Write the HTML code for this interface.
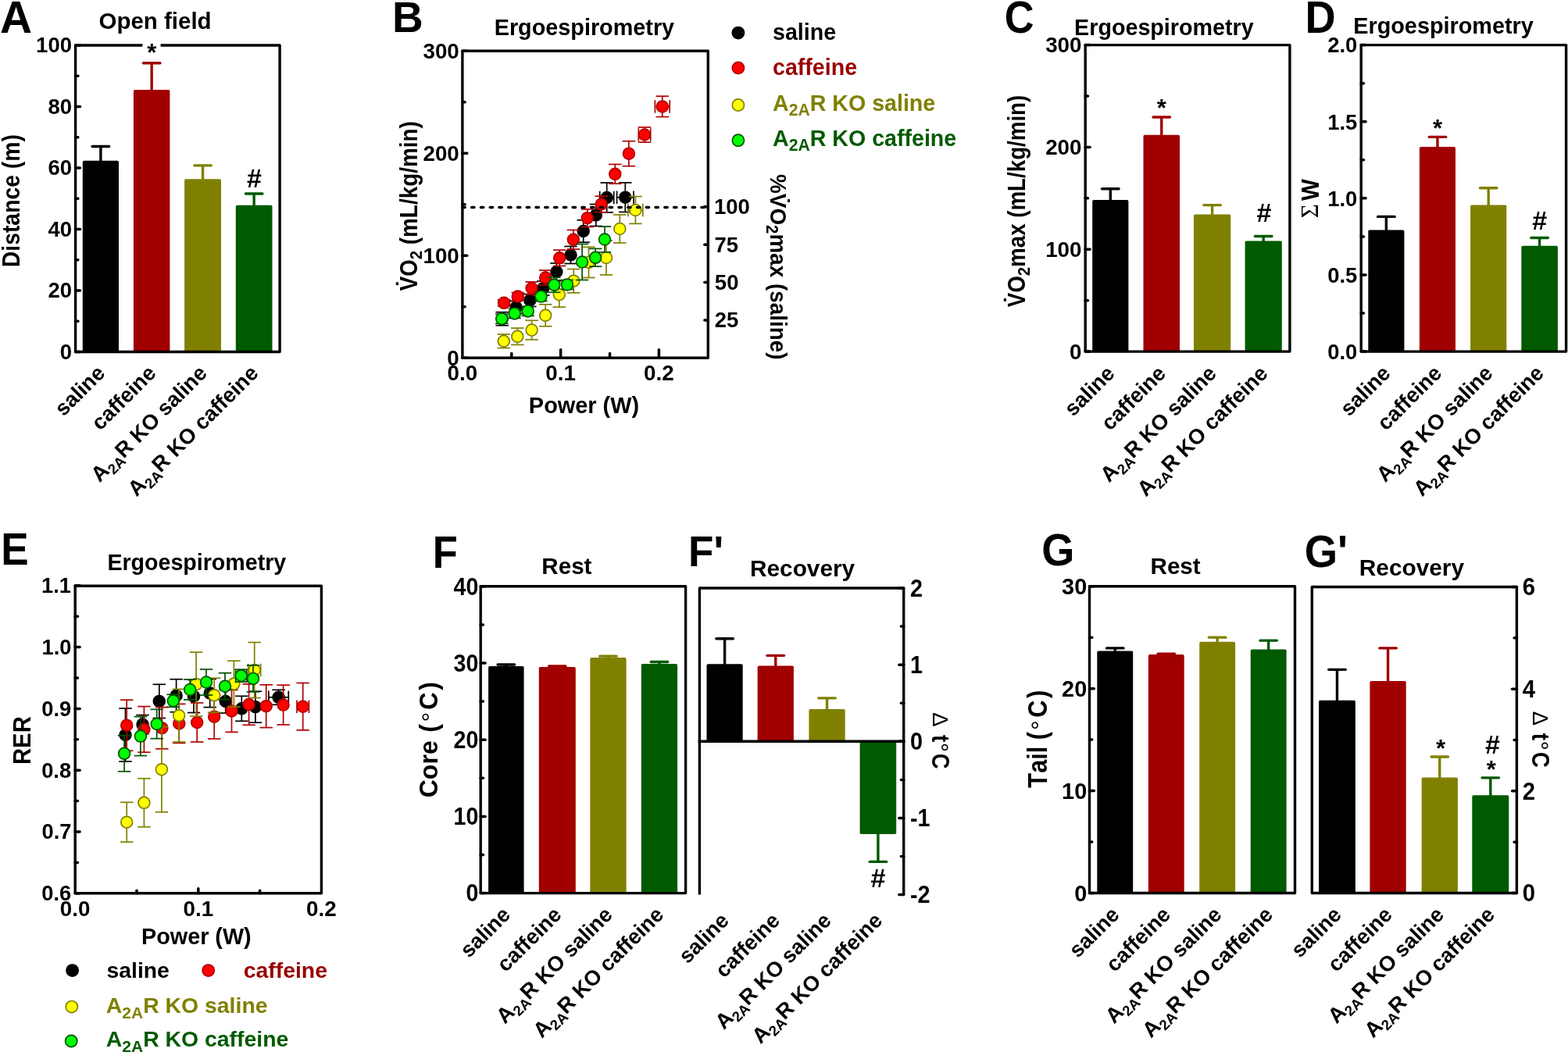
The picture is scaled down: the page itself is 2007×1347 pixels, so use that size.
<!DOCTYPE html>
<html><head><meta charset="utf-8"><style>
html,body{margin:0;padding:0;background:#fff;}
svg{display:block;}
text{font-family:"Liberation Sans",sans-serif;font-kerning:none;}
</style></head><body>
<svg width="2007" height="1347" viewBox="0 0 2007 1347">
<rect width="2007" height="1347" fill="#fff"/>
<rect x="105.80" y="205.76" width="46.20" height="244.74" fill="#000000" rx="1.8"/>
<line x1="128.90" y1="206.76" x2="128.90" y2="187.52" stroke="#000000" stroke-width="3.4" stroke-linecap="butt"/>
<line x1="118.15" y1="187.52" x2="139.65" y2="187.52" stroke="#000000" stroke-width="3.4" stroke-linecap="round"/>
<rect x="170.90" y="115.09" width="46.50" height="335.41" fill="#a00000" rx="1.8"/>
<line x1="194.15" y1="116.09" x2="194.15" y2="80.76" stroke="#a00000" stroke-width="3.4" stroke-linecap="butt"/>
<line x1="183.40" y1="80.76" x2="204.90" y2="80.76" stroke="#a00000" stroke-width="3.4" stroke-linecap="round"/>
<rect x="236.10" y="229.31" width="46.90" height="221.19" fill="#808000" rx="1.8"/>
<line x1="259.55" y1="230.31" x2="259.55" y2="211.86" stroke="#808000" stroke-width="3.4" stroke-linecap="butt"/>
<line x1="248.80" y1="211.86" x2="270.30" y2="211.86" stroke="#808000" stroke-width="3.4" stroke-linecap="round"/>
<rect x="301.80" y="262.67" width="46.70" height="187.83" fill="#005a00" rx="1.8"/>
<line x1="325.15" y1="263.67" x2="325.15" y2="247.97" stroke="#005a00" stroke-width="3.4" stroke-linecap="butt"/>
<line x1="314.40" y1="247.97" x2="335.90" y2="247.97" stroke="#005a00" stroke-width="3.4" stroke-linecap="round"/>
<path d="M182.40,58.00 L96.60,58.00 L96.60,450.50 L358.10,450.50 L358.10,58.00 L205.60,58.00" stroke="#000" stroke-width="3.4" stroke-linejoin="round" fill="none"/>
<line x1="96.60" y1="450.50" x2="102.45" y2="450.50" stroke="#000000" stroke-width="3.5" stroke-linecap="round"/>
<line x1="96.60" y1="372.00" x2="102.45" y2="372.00" stroke="#000000" stroke-width="3.5" stroke-linecap="round"/>
<line x1="96.60" y1="293.50" x2="102.45" y2="293.50" stroke="#000000" stroke-width="3.5" stroke-linecap="round"/>
<line x1="96.60" y1="215.00" x2="102.45" y2="215.00" stroke="#000000" stroke-width="3.5" stroke-linecap="round"/>
<line x1="96.60" y1="136.50" x2="102.45" y2="136.50" stroke="#000000" stroke-width="3.5" stroke-linecap="round"/>
<line x1="96.60" y1="58.00" x2="102.45" y2="58.00" stroke="#000000" stroke-width="3.5" stroke-linecap="round"/>
<line x1="96.60" y1="411.25" x2="99.85" y2="411.25" stroke="#000000" stroke-width="3.5" stroke-linecap="round"/>
<line x1="96.60" y1="332.75" x2="99.85" y2="332.75" stroke="#000000" stroke-width="3.5" stroke-linecap="round"/>
<line x1="96.60" y1="254.25" x2="99.85" y2="254.25" stroke="#000000" stroke-width="3.5" stroke-linecap="round"/>
<line x1="96.60" y1="175.75" x2="99.85" y2="175.75" stroke="#000000" stroke-width="3.5" stroke-linecap="round"/>
<line x1="96.60" y1="97.25" x2="99.85" y2="97.25" stroke="#000000" stroke-width="3.5" stroke-linecap="round"/>
<text transform="translate(92.00,459.96)" font-size="27.5" font-weight="bold" text-anchor="end" fill="#000000">0</text>
<text transform="translate(92.00,381.46)" font-size="27.5" font-weight="bold" text-anchor="end" fill="#000000">20</text>
<text transform="translate(92.00,302.96)" font-size="27.5" font-weight="bold" text-anchor="end" fill="#000000">40</text>
<text transform="translate(92.00,224.46)" font-size="27.5" font-weight="bold" text-anchor="end" fill="#000000">60</text>
<text transform="translate(92.00,145.96)" font-size="27.5" font-weight="bold" text-anchor="end" fill="#000000">80</text>
<text transform="translate(92.00,67.46)" font-size="27.5" font-weight="bold" text-anchor="end" fill="#000000">100</text>
<text transform="translate(135.90,479.35) rotate(-45)" font-size="27.3" font-weight="bold" text-anchor="end" fill="#000000">saline</text>
<text transform="translate(201.15,479.35) rotate(-45)" font-size="27.3" font-weight="bold" text-anchor="end" fill="#000000">caffeine</text>
<text transform="translate(266.55,479.35) rotate(-45)" font-size="27.3" font-weight="bold" text-anchor="end" fill="#000000">A<tspan font-size="18.6" dy="5.7">2A</tspan><tspan dy="-5.7">R KO saline</tspan></text>
<text transform="translate(332.15,479.35) rotate(-45)" font-size="27.3" font-weight="bold" text-anchor="end" fill="#000000">A<tspan font-size="18.6" dy="5.7">2A</tspan><tspan dy="-5.7">R KO caffeine</tspan></text>
<rect x="1398.20" y="256.12" width="46.20" height="193.98" fill="#000000" rx="1.8"/>
<line x1="1421.30" y1="257.12" x2="1421.30" y2="241.81" stroke="#000000" stroke-width="3.4" stroke-linecap="butt"/>
<line x1="1410.55" y1="241.81" x2="1432.05" y2="241.81" stroke="#000000" stroke-width="3.4" stroke-linecap="round"/>
<rect x="1463.50" y="172.78" width="46.50" height="277.32" fill="#a00000" rx="1.8"/>
<line x1="1486.75" y1="173.78" x2="1486.75" y2="149.97" stroke="#a00000" stroke-width="3.4" stroke-linecap="butt"/>
<line x1="1476.00" y1="149.97" x2="1497.50" y2="149.97" stroke="#a00000" stroke-width="3.4" stroke-linecap="round"/>
<rect x="1528.00" y="274.57" width="47.20" height="175.53" fill="#808000" rx="1.8"/>
<line x1="1551.60" y1="275.57" x2="1551.60" y2="262.62" stroke="#808000" stroke-width="3.4" stroke-linecap="butt"/>
<line x1="1540.85" y1="262.62" x2="1562.35" y2="262.62" stroke="#808000" stroke-width="3.4" stroke-linecap="round"/>
<rect x="1593.60" y="308.45" width="47.20" height="141.65" fill="#005a00" rx="1.8"/>
<line x1="1617.20" y1="309.45" x2="1617.20" y2="302.52" stroke="#005a00" stroke-width="3.4" stroke-linecap="butt"/>
<line x1="1606.45" y1="302.52" x2="1627.95" y2="302.52" stroke="#005a00" stroke-width="3.4" stroke-linecap="round"/>
<rect x="1389.20" y="57.60" width="261.70" height="392.50" stroke="#000" stroke-width="3.4" stroke-linejoin="round" fill="none"/>
<line x1="1389.20" y1="450.10" x2="1395.05" y2="450.10" stroke="#000000" stroke-width="3.5" stroke-linecap="round"/>
<line x1="1389.20" y1="319.27" x2="1395.05" y2="319.27" stroke="#000000" stroke-width="3.5" stroke-linecap="round"/>
<line x1="1389.20" y1="188.43" x2="1395.05" y2="188.43" stroke="#000000" stroke-width="3.5" stroke-linecap="round"/>
<line x1="1389.20" y1="57.60" x2="1395.05" y2="57.60" stroke="#000000" stroke-width="3.5" stroke-linecap="round"/>
<line x1="1389.20" y1="384.68" x2="1392.45" y2="384.68" stroke="#000000" stroke-width="3.5" stroke-linecap="round"/>
<line x1="1389.20" y1="253.85" x2="1392.45" y2="253.85" stroke="#000000" stroke-width="3.5" stroke-linecap="round"/>
<line x1="1389.20" y1="123.02" x2="1392.45" y2="123.02" stroke="#000000" stroke-width="3.5" stroke-linecap="round"/>
<text transform="translate(1384.50,459.76) scale(1,1.01)" font-size="27.8" font-weight="bold" text-anchor="end" fill="#000000">0</text>
<text transform="translate(1384.50,328.93) scale(1,1.01)" font-size="27.8" font-weight="bold" text-anchor="end" fill="#000000">100</text>
<text transform="translate(1384.50,198.09) scale(1,1.01)" font-size="27.8" font-weight="bold" text-anchor="end" fill="#000000">200</text>
<text transform="translate(1384.50,67.26) scale(1,1.01)" font-size="27.8" font-weight="bold" text-anchor="end" fill="#000000">300</text>
<text transform="translate(1428.30,479.65) rotate(-45)" font-size="27.3" font-weight="bold" text-anchor="end" fill="#000000">saline</text>
<text transform="translate(1493.75,479.65) rotate(-45)" font-size="27.3" font-weight="bold" text-anchor="end" fill="#000000">caffeine</text>
<text transform="translate(1558.60,479.65) rotate(-45)" font-size="27.3" font-weight="bold" text-anchor="end" fill="#000000">A<tspan font-size="18.6" dy="5.7">2A</tspan><tspan dy="-5.7">R KO saline</tspan></text>
<text transform="translate(1624.20,479.65) rotate(-45)" font-size="27.3" font-weight="bold" text-anchor="end" fill="#000000">A<tspan font-size="18.6" dy="5.7">2A</tspan><tspan dy="-5.7">R KO caffeine</tspan></text>
<rect x="1751.30" y="294.46" width="46.10" height="155.64" fill="#000000" rx="1.8"/>
<line x1="1774.35" y1="295.46" x2="1774.35" y2="277.40" stroke="#000000" stroke-width="3.4" stroke-linecap="butt"/>
<line x1="1763.60" y1="277.40" x2="1785.10" y2="277.40" stroke="#000000" stroke-width="3.4" stroke-linecap="round"/>
<rect x="1816.90" y="188.09" width="46.10" height="262.01" fill="#a00000" rx="1.8"/>
<line x1="1839.95" y1="189.09" x2="1839.95" y2="175.35" stroke="#a00000" stroke-width="3.4" stroke-linecap="butt"/>
<line x1="1829.20" y1="175.35" x2="1850.70" y2="175.35" stroke="#a00000" stroke-width="3.4" stroke-linecap="round"/>
<rect x="1882.10" y="262.47" width="46.20" height="187.63" fill="#808000" rx="1.8"/>
<line x1="1905.20" y1="263.47" x2="1905.20" y2="240.70" stroke="#808000" stroke-width="3.4" stroke-linecap="butt"/>
<line x1="1894.45" y1="240.70" x2="1915.95" y2="240.70" stroke="#808000" stroke-width="3.4" stroke-linecap="round"/>
<rect x="1947.30" y="314.67" width="46.60" height="135.43" fill="#005a00" rx="1.8"/>
<line x1="1970.60" y1="315.67" x2="1970.60" y2="304.48" stroke="#005a00" stroke-width="3.4" stroke-linecap="butt"/>
<line x1="1959.85" y1="304.48" x2="1981.35" y2="304.48" stroke="#005a00" stroke-width="3.4" stroke-linecap="round"/>
<rect x="1742.20" y="57.60" width="262.40" height="392.50" stroke="#000" stroke-width="3.4" stroke-linejoin="round" fill="none"/>
<line x1="1742.20" y1="450.10" x2="1748.05" y2="450.10" stroke="#000000" stroke-width="3.5" stroke-linecap="round"/>
<line x1="1742.20" y1="351.98" x2="1748.05" y2="351.98" stroke="#000000" stroke-width="3.5" stroke-linecap="round"/>
<line x1="1742.20" y1="253.85" x2="1748.05" y2="253.85" stroke="#000000" stroke-width="3.5" stroke-linecap="round"/>
<line x1="1742.20" y1="155.73" x2="1748.05" y2="155.73" stroke="#000000" stroke-width="3.5" stroke-linecap="round"/>
<line x1="1742.20" y1="57.60" x2="1748.05" y2="57.60" stroke="#000000" stroke-width="3.5" stroke-linecap="round"/>
<line x1="1742.20" y1="401.04" x2="1745.45" y2="401.04" stroke="#000000" stroke-width="3.5" stroke-linecap="round"/>
<line x1="1742.20" y1="302.91" x2="1745.45" y2="302.91" stroke="#000000" stroke-width="3.5" stroke-linecap="round"/>
<line x1="1742.20" y1="204.79" x2="1745.45" y2="204.79" stroke="#000000" stroke-width="3.5" stroke-linecap="round"/>
<line x1="1742.20" y1="106.66" x2="1745.45" y2="106.66" stroke="#000000" stroke-width="3.5" stroke-linecap="round"/>
<text transform="translate(1737.30,459.90) scale(1,1.04)" font-size="27.4" font-weight="bold" text-anchor="end" fill="#000000">0.0</text>
<text transform="translate(1737.30,361.78) scale(1,1.04)" font-size="27.4" font-weight="bold" text-anchor="end" fill="#000000">0.5</text>
<text transform="translate(1737.30,263.65) scale(1,1.04)" font-size="27.4" font-weight="bold" text-anchor="end" fill="#000000">1.0</text>
<text transform="translate(1737.30,165.53) scale(1,1.04)" font-size="27.4" font-weight="bold" text-anchor="end" fill="#000000">1.5</text>
<text transform="translate(1737.30,67.40) scale(1,1.04)" font-size="27.4" font-weight="bold" text-anchor="end" fill="#000000">2.0</text>
<text transform="translate(1781.35,479.45) rotate(-45)" font-size="27.3" font-weight="bold" text-anchor="end" fill="#000000">saline</text>
<text transform="translate(1846.95,479.45) rotate(-45)" font-size="27.3" font-weight="bold" text-anchor="end" fill="#000000">caffeine</text>
<text transform="translate(1912.20,479.45) rotate(-45)" font-size="27.3" font-weight="bold" text-anchor="end" fill="#000000">A<tspan font-size="18.6" dy="5.7">2A</tspan><tspan dy="-5.7">R KO saline</tspan></text>
<text transform="translate(1977.60,479.45) rotate(-45)" font-size="27.3" font-weight="bold" text-anchor="end" fill="#000000">A<tspan font-size="18.6" dy="5.7">2A</tspan><tspan dy="-5.7">R KO caffeine</tspan></text>
<rect x="625.10" y="852.91" width="45.50" height="290.69" fill="#000000" rx="1.8"/>
<line x1="647.85" y1="853.91" x2="647.85" y2="850.96" stroke="#000000" stroke-width="3.4" stroke-linecap="butt"/>
<line x1="637.10" y1="850.96" x2="658.60" y2="850.96" stroke="#000000" stroke-width="3.4" stroke-linecap="round"/>
<rect x="689.80" y="853.89" width="47.00" height="289.71" fill="#a00000" rx="1.8"/>
<line x1="713.30" y1="854.89" x2="713.30" y2="852.93" stroke="#a00000" stroke-width="3.4" stroke-linecap="butt"/>
<line x1="702.55" y1="852.93" x2="724.05" y2="852.93" stroke="#a00000" stroke-width="3.4" stroke-linecap="round"/>
<rect x="755.30" y="842.11" width="46.30" height="301.49" fill="#808000" rx="1.8"/>
<line x1="778.45" y1="843.11" x2="778.45" y2="840.16" stroke="#808000" stroke-width="3.4" stroke-linecap="butt"/>
<line x1="767.70" y1="840.16" x2="789.20" y2="840.16" stroke="#808000" stroke-width="3.4" stroke-linecap="round"/>
<rect x="820.80" y="849.96" width="46.30" height="293.64" fill="#005a00" rx="1.8"/>
<line x1="843.95" y1="850.96" x2="843.95" y2="847.53" stroke="#005a00" stroke-width="3.4" stroke-linecap="butt"/>
<line x1="833.20" y1="847.53" x2="854.70" y2="847.53" stroke="#005a00" stroke-width="3.4" stroke-linecap="round"/>
<rect x="615.20" y="750.80" width="262.40" height="392.80" stroke="#000" stroke-width="3.4" stroke-linejoin="round" fill="none"/>
<line x1="615.20" y1="1143.60" x2="621.05" y2="1143.60" stroke="#000000" stroke-width="3.5" stroke-linecap="round"/>
<line x1="615.20" y1="1045.40" x2="621.05" y2="1045.40" stroke="#000000" stroke-width="3.5" stroke-linecap="round"/>
<line x1="615.20" y1="947.20" x2="621.05" y2="947.20" stroke="#000000" stroke-width="3.5" stroke-linecap="round"/>
<line x1="615.20" y1="849.00" x2="621.05" y2="849.00" stroke="#000000" stroke-width="3.5" stroke-linecap="round"/>
<line x1="615.20" y1="750.80" x2="621.05" y2="750.80" stroke="#000000" stroke-width="3.5" stroke-linecap="round"/>
<line x1="615.20" y1="1094.50" x2="618.45" y2="1094.50" stroke="#000000" stroke-width="3.5" stroke-linecap="round"/>
<line x1="615.20" y1="996.30" x2="618.45" y2="996.30" stroke="#000000" stroke-width="3.5" stroke-linecap="round"/>
<line x1="615.20" y1="898.10" x2="618.45" y2="898.10" stroke="#000000" stroke-width="3.5" stroke-linecap="round"/>
<line x1="615.20" y1="799.90" x2="618.45" y2="799.90" stroke="#000000" stroke-width="3.5" stroke-linecap="round"/>
<text transform="translate(612.30,1154.32) scale(1,1.09)" font-size="28.6" font-weight="bold" text-anchor="end" fill="#000000">0</text>
<text transform="translate(612.30,1056.12) scale(1,1.09)" font-size="28.6" font-weight="bold" text-anchor="end" fill="#000000">10</text>
<text transform="translate(612.30,957.92) scale(1,1.09)" font-size="28.6" font-weight="bold" text-anchor="end" fill="#000000">20</text>
<text transform="translate(612.30,859.72) scale(1,1.09)" font-size="28.6" font-weight="bold" text-anchor="end" fill="#000000">30</text>
<text transform="translate(612.30,761.52) scale(1,1.09)" font-size="28.6" font-weight="bold" text-anchor="end" fill="#000000">40</text>
<text transform="translate(654.85,1172.85) rotate(-45)" font-size="27.3" font-weight="bold" text-anchor="end" fill="#000000">saline</text>
<text transform="translate(720.30,1172.85) rotate(-45)" font-size="27.3" font-weight="bold" text-anchor="end" fill="#000000">caffeine</text>
<text transform="translate(785.45,1172.85) rotate(-45)" font-size="27.3" font-weight="bold" text-anchor="end" fill="#000000">A<tspan font-size="18.6" dy="5.7">2A</tspan><tspan dy="-5.7">R KO saline</tspan></text>
<text transform="translate(850.95,1172.85) rotate(-45)" font-size="27.3" font-weight="bold" text-anchor="end" fill="#000000">A<tspan font-size="18.6" dy="5.7">2A</tspan><tspan dy="-5.7">R KO caffeine</tspan></text>
<rect x="904.50" y="850.15" width="46.20" height="99.15" fill="#000000" rx="1.8"/>
<line x1="927.60" y1="851.15" x2="927.60" y2="817.78" stroke="#000000" stroke-width="3.4" stroke-linecap="butt"/>
<line x1="916.85" y1="817.78" x2="938.35" y2="817.78" stroke="#000000" stroke-width="3.4" stroke-linecap="round"/>
<rect x="969.60" y="852.41" width="46.30" height="96.89" fill="#a00000" rx="1.8"/>
<line x1="992.75" y1="853.41" x2="992.75" y2="839.37" stroke="#a00000" stroke-width="3.4" stroke-linecap="butt"/>
<line x1="982.00" y1="839.37" x2="1003.50" y2="839.37" stroke="#a00000" stroke-width="3.4" stroke-linecap="round"/>
<rect x="1035.40" y="908.06" width="46.30" height="41.24" fill="#808000" rx="1.8"/>
<line x1="1058.55" y1="909.06" x2="1058.55" y2="893.85" stroke="#808000" stroke-width="3.4" stroke-linecap="butt"/>
<line x1="1047.80" y1="893.85" x2="1069.30" y2="893.85" stroke="#808000" stroke-width="3.4" stroke-linecap="round"/>
<rect x="1100.60" y="949.30" width="46.60" height="118.78" fill="#005a00" rx="1.8"/>
<line x1="1123.90" y1="1067.08" x2="1123.90" y2="1103.40" stroke="#005a00" stroke-width="3.4" stroke-linecap="butt"/>
<line x1="1113.15" y1="1103.40" x2="1134.65" y2="1103.40" stroke="#005a00" stroke-width="3.4" stroke-linecap="round"/>
<path d="M895.40,1145.60 L895.40,753.00 L1156.70,753.00 L1156.70,1145.60" stroke="#000" stroke-width="3.4" stroke-linejoin="round" fill="none"/>
<line x1="893.70" y1="949.30" x2="1158.40" y2="949.30" stroke="#000000" stroke-width="3.4" stroke-linecap="butt"/>
<line x1="1156.70" y1="1145.60" x2="1150.85" y2="1145.60" stroke="#000000" stroke-width="3.5" stroke-linecap="round"/>
<line x1="1156.70" y1="1047.45" x2="1150.85" y2="1047.45" stroke="#000000" stroke-width="3.5" stroke-linecap="round"/>
<line x1="1156.70" y1="949.30" x2="1150.85" y2="949.30" stroke="#000000" stroke-width="3.5" stroke-linecap="round"/>
<line x1="1156.70" y1="851.15" x2="1150.85" y2="851.15" stroke="#000000" stroke-width="3.5" stroke-linecap="round"/>
<line x1="1156.70" y1="753.00" x2="1150.85" y2="753.00" stroke="#000000" stroke-width="3.5" stroke-linecap="round"/>
<line x1="1156.70" y1="1096.52" x2="1153.45" y2="1096.52" stroke="#000000" stroke-width="3.5" stroke-linecap="round"/>
<line x1="1156.70" y1="998.38" x2="1153.45" y2="998.38" stroke="#000000" stroke-width="3.5" stroke-linecap="round"/>
<line x1="1156.70" y1="900.22" x2="1153.45" y2="900.22" stroke="#000000" stroke-width="3.5" stroke-linecap="round"/>
<line x1="1156.70" y1="802.08" x2="1153.45" y2="802.08" stroke="#000000" stroke-width="3.5" stroke-linecap="round"/>
<text transform="translate(1165.00,1156.20) scale(1,1.07)" font-size="28.8" font-weight="bold" text-anchor="start" fill="#000000">-2</text>
<text transform="translate(1165.00,1058.05) scale(1,1.07)" font-size="28.8" font-weight="bold" text-anchor="start" fill="#000000">-1</text>
<text transform="translate(1165.00,959.90) scale(1,1.07)" font-size="28.8" font-weight="bold" text-anchor="start" fill="#000000">0</text>
<text transform="translate(1165.00,861.75) scale(1,1.07)" font-size="28.8" font-weight="bold" text-anchor="start" fill="#000000">1</text>
<text transform="translate(1165.00,763.60) scale(1,1.07)" font-size="28.8" font-weight="bold" text-anchor="start" fill="#000000">2</text>
<text transform="translate(934.60,1180.25) rotate(-45)" font-size="27.3" font-weight="bold" text-anchor="end" fill="#000000">saline</text>
<text transform="translate(999.75,1180.25) rotate(-45)" font-size="27.3" font-weight="bold" text-anchor="end" fill="#000000">caffeine</text>
<text transform="translate(1065.55,1180.25) rotate(-45)" font-size="27.3" font-weight="bold" text-anchor="end" fill="#000000">A<tspan font-size="18.6" dy="5.7">2A</tspan><tspan dy="-5.7">R KO saline</tspan></text>
<text transform="translate(1130.90,1180.25) rotate(-45)" font-size="27.3" font-weight="bold" text-anchor="end" fill="#000000">A<tspan font-size="18.6" dy="5.7">2A</tspan><tspan dy="-5.7">R KO caffeine</tspan></text>
<rect x="1404.30" y="833.50" width="45.90" height="310.00" fill="#000000" rx="1.8"/>
<line x1="1427.25" y1="834.50" x2="1427.25" y2="829.91" stroke="#000000" stroke-width="3.4" stroke-linecap="butt"/>
<line x1="1416.50" y1="829.91" x2="1438.00" y2="829.91" stroke="#000000" stroke-width="3.4" stroke-linecap="round"/>
<rect x="1469.80" y="838.08" width="45.90" height="305.42" fill="#a00000" rx="1.8"/>
<line x1="1492.75" y1="839.08" x2="1492.75" y2="837.12" stroke="#a00000" stroke-width="3.4" stroke-linecap="butt"/>
<line x1="1482.00" y1="837.12" x2="1503.50" y2="837.12" stroke="#a00000" stroke-width="3.4" stroke-linecap="round"/>
<rect x="1535.20" y="821.71" width="45.90" height="321.79" fill="#808000" rx="1.8"/>
<line x1="1558.15" y1="822.71" x2="1558.15" y2="816.17" stroke="#808000" stroke-width="3.4" stroke-linecap="butt"/>
<line x1="1547.40" y1="816.17" x2="1568.90" y2="816.17" stroke="#808000" stroke-width="3.4" stroke-linecap="round"/>
<rect x="1600.70" y="831.40" width="45.90" height="312.10" fill="#005a00" rx="1.8"/>
<line x1="1623.65" y1="832.40" x2="1623.65" y2="820.09" stroke="#005a00" stroke-width="3.4" stroke-linecap="butt"/>
<line x1="1612.90" y1="820.09" x2="1634.40" y2="820.09" stroke="#005a00" stroke-width="3.4" stroke-linecap="round"/>
<rect x="1394.50" y="750.70" width="263.00" height="392.80" stroke="#000" stroke-width="3.4" stroke-linejoin="round" fill="none"/>
<line x1="1394.50" y1="1143.50" x2="1400.35" y2="1143.50" stroke="#000000" stroke-width="3.5" stroke-linecap="round"/>
<line x1="1394.50" y1="1012.57" x2="1400.35" y2="1012.57" stroke="#000000" stroke-width="3.5" stroke-linecap="round"/>
<line x1="1394.50" y1="881.63" x2="1400.35" y2="881.63" stroke="#000000" stroke-width="3.5" stroke-linecap="round"/>
<line x1="1394.50" y1="750.70" x2="1400.35" y2="750.70" stroke="#000000" stroke-width="3.5" stroke-linecap="round"/>
<line x1="1394.50" y1="1078.03" x2="1397.75" y2="1078.03" stroke="#000000" stroke-width="3.5" stroke-linecap="round"/>
<line x1="1394.50" y1="947.10" x2="1397.75" y2="947.10" stroke="#000000" stroke-width="3.5" stroke-linecap="round"/>
<line x1="1394.50" y1="816.17" x2="1397.75" y2="816.17" stroke="#000000" stroke-width="3.5" stroke-linecap="round"/>
<text transform="translate(1391.20,1153.84) scale(1,1.04)" font-size="28.9" font-weight="bold" text-anchor="end" fill="#000000">0</text>
<text transform="translate(1391.20,1022.91) scale(1,1.04)" font-size="28.9" font-weight="bold" text-anchor="end" fill="#000000">10</text>
<text transform="translate(1391.20,891.97) scale(1,1.04)" font-size="28.9" font-weight="bold" text-anchor="end" fill="#000000">20</text>
<text transform="translate(1391.20,761.04) scale(1,1.04)" font-size="28.9" font-weight="bold" text-anchor="end" fill="#000000">30</text>
<text transform="translate(1434.25,1172.75) rotate(-45)" font-size="27.3" font-weight="bold" text-anchor="end" fill="#000000">saline</text>
<text transform="translate(1499.75,1172.75) rotate(-45)" font-size="27.3" font-weight="bold" text-anchor="end" fill="#000000">caffeine</text>
<text transform="translate(1565.15,1172.75) rotate(-45)" font-size="27.3" font-weight="bold" text-anchor="end" fill="#000000">A<tspan font-size="18.6" dy="5.7">2A</tspan><tspan dy="-5.7">R KO saline</tspan></text>
<text transform="translate(1630.65,1172.75) rotate(-45)" font-size="27.3" font-weight="bold" text-anchor="end" fill="#000000">A<tspan font-size="18.6" dy="5.7">2A</tspan><tspan dy="-5.7">R KO caffeine</tspan></text>
<rect x="1688.00" y="896.85" width="46.90" height="246.65" fill="#000000" rx="1.8"/>
<line x1="1711.45" y1="897.85" x2="1711.45" y2="857.34" stroke="#000000" stroke-width="3.4" stroke-linecap="butt"/>
<line x1="1700.70" y1="857.34" x2="1722.20" y2="857.34" stroke="#000000" stroke-width="3.4" stroke-linecap="round"/>
<rect x="1753.40" y="872.02" width="46.30" height="271.48" fill="#a00000" rx="1.8"/>
<line x1="1776.55" y1="873.02" x2="1776.55" y2="829.90" stroke="#a00000" stroke-width="3.4" stroke-linecap="butt"/>
<line x1="1765.80" y1="829.90" x2="1787.30" y2="829.90" stroke="#a00000" stroke-width="3.4" stroke-linecap="round"/>
<rect x="1819.60" y="995.50" width="46.30" height="148.00" fill="#808000" rx="1.8"/>
<line x1="1842.75" y1="996.50" x2="1842.75" y2="969.06" stroke="#808000" stroke-width="3.4" stroke-linecap="butt"/>
<line x1="1832.00" y1="969.06" x2="1853.50" y2="969.06" stroke="#808000" stroke-width="3.4" stroke-linecap="round"/>
<rect x="1884.30" y="1018.37" width="47.00" height="125.13" fill="#005a00" rx="1.8"/>
<line x1="1907.80" y1="1019.37" x2="1907.80" y2="995.85" stroke="#005a00" stroke-width="3.4" stroke-linecap="butt"/>
<line x1="1897.05" y1="995.85" x2="1918.55" y2="995.85" stroke="#005a00" stroke-width="3.4" stroke-linecap="round"/>
<rect x="1679.30" y="751.50" width="262.10" height="392.00" stroke="#000" stroke-width="3.4" stroke-linejoin="round" fill="none"/>
<line x1="1941.40" y1="1143.50" x2="1935.55" y2="1143.50" stroke="#000000" stroke-width="3.5" stroke-linecap="round"/>
<line x1="1941.40" y1="1012.83" x2="1935.55" y2="1012.83" stroke="#000000" stroke-width="3.5" stroke-linecap="round"/>
<line x1="1941.40" y1="882.17" x2="1935.55" y2="882.17" stroke="#000000" stroke-width="3.5" stroke-linecap="round"/>
<line x1="1941.40" y1="751.50" x2="1935.55" y2="751.50" stroke="#000000" stroke-width="3.5" stroke-linecap="round"/>
<line x1="1941.40" y1="1078.17" x2="1938.15" y2="1078.17" stroke="#000000" stroke-width="3.5" stroke-linecap="round"/>
<line x1="1941.40" y1="947.50" x2="1938.15" y2="947.50" stroke="#000000" stroke-width="3.5" stroke-linecap="round"/>
<line x1="1941.40" y1="816.83" x2="1938.15" y2="816.83" stroke="#000000" stroke-width="3.5" stroke-linecap="round"/>
<text transform="translate(1948.80,1154.23) scale(1,1.065)" font-size="29.3" font-weight="bold" text-anchor="start" fill="#000000">0</text>
<text transform="translate(1948.80,1023.57) scale(1,1.065)" font-size="29.3" font-weight="bold" text-anchor="start" fill="#000000">2</text>
<text transform="translate(1948.80,892.90) scale(1,1.065)" font-size="29.3" font-weight="bold" text-anchor="start" fill="#000000">4</text>
<text transform="translate(1948.80,762.23) scale(1,1.065)" font-size="29.3" font-weight="bold" text-anchor="start" fill="#000000">6</text>
<text transform="translate(1718.45,1172.75) rotate(-45)" font-size="27.3" font-weight="bold" text-anchor="end" fill="#000000">saline</text>
<text transform="translate(1783.55,1172.75) rotate(-45)" font-size="27.3" font-weight="bold" text-anchor="end" fill="#000000">caffeine</text>
<text transform="translate(1849.75,1172.75) rotate(-45)" font-size="27.3" font-weight="bold" text-anchor="end" fill="#000000">A<tspan font-size="18.6" dy="5.7">2A</tspan><tspan dy="-5.7">R KO saline</tspan></text>
<text transform="translate(1914.80,1172.75) rotate(-45)" font-size="27.3" font-weight="bold" text-anchor="end" fill="#000000">A<tspan font-size="18.6" dy="5.7">2A</tspan><tspan dy="-5.7">R KO caffeine</tspan></text>
<text transform="translate(194.20,78.33)" font-size="31" font-weight="bold" text-anchor="middle" fill="#000000">*</text>
<text transform="translate(325.40,240.36)" font-size="34" font-weight="bold" text-anchor="middle" fill="#000000">#</text>
<text transform="translate(1486.80,149.33)" font-size="31" font-weight="bold" text-anchor="middle" fill="#000000">*</text>
<text transform="translate(1617.90,284.16)" font-size="34" font-weight="bold" text-anchor="middle" fill="#000000">#</text>
<text transform="translate(1840.00,175.33)" font-size="31" font-weight="bold" text-anchor="middle" fill="#000000">*</text>
<text transform="translate(1970.80,294.16)" font-size="34" font-weight="bold" text-anchor="middle" fill="#000000">#</text>
<text transform="translate(1124.00,1136.16)" font-size="34" font-weight="bold" text-anchor="middle" fill="#000000">#</text>
<text transform="translate(1844.00,968.83)" font-size="31" font-weight="bold" text-anchor="middle" fill="#000000">*</text>
<text transform="translate(1910.40,965.36)" font-size="34" font-weight="bold" text-anchor="middle" fill="#000000">#</text>
<text transform="translate(1908.70,996.43)" font-size="31" font-weight="bold" text-anchor="middle" fill="#000000">*</text>
<text transform="translate(-0.01,41.60)" font-size="56.8" font-weight="bold" text-anchor="start" fill="#000000">A</text>
<text transform="translate(501.92,41.20) scale(1,1.01)" font-size="55" font-weight="bold" text-anchor="start" fill="#000000">B</text>
<text transform="translate(1285.85,41.50) scale(1,1.09)" font-size="52.3" font-weight="bold" text-anchor="start" fill="#000000">C</text>
<text transform="translate(1670.47,41.80) scale(1,1.067)" font-size="54.2" font-weight="bold" text-anchor="start" fill="#000000">D</text>
<text transform="translate(1.35,722.70) scale(1,1.08)" font-size="53.1" font-weight="bold" text-anchor="start" fill="#000000">E</text>
<text transform="translate(553.69,726.90) scale(1,1.08)" font-size="52.5" font-weight="bold" text-anchor="start" fill="#000000">F</text>
<text transform="translate(881.05,724.90) scale(1,1.064)" font-size="53" font-weight="bold" text-anchor="start" fill="#000000">F'</text>
<text transform="translate(1333.28,724.30) scale(1,1.05)" font-size="54.1" font-weight="bold" text-anchor="start" fill="#000000">G</text>
<text transform="translate(1669.66,726.30) scale(1,1.05)" font-size="54.5" font-weight="bold" text-anchor="start" fill="#000000">G'</text>
<text transform="translate(126.59,36.90)" font-size="29.46" font-weight="bold" text-anchor="start" fill="#000000">Open field</text>
<text transform="translate(632.67,44.50)" font-size="28.8" font-weight="bold" text-anchor="start" fill="#000000">Ergoespirometry</text>
<text transform="translate(1375.08,44.70)" font-size="28.7" font-weight="bold" text-anchor="start" fill="#000000">Ergoespirometry</text>
<text transform="translate(1732.27,42.60)" font-size="28.8" font-weight="bold" text-anchor="start" fill="#000000">Ergoespirometry</text>
<text transform="translate(137.39,730.30)" font-size="28.6" font-weight="bold" text-anchor="start" fill="#000000">Ergoespirometry</text>
<text transform="translate(693.32,734.70)" font-size="29.6" font-weight="bold" text-anchor="start" fill="#000000">Rest</text>
<text transform="translate(960.01,738.40)" font-size="29.8" font-weight="bold" text-anchor="start" fill="#000000">Recovery</text>
<text transform="translate(1472.52,734.70)" font-size="29.6" font-weight="bold" text-anchor="start" fill="#000000">Rest</text>
<text transform="translate(1739.81,737.30)" font-size="29.8" font-weight="bold" text-anchor="start" fill="#000000">Recovery</text>
<text transform="translate(25.00,342.20) rotate(-90) scale(1,1.09)" font-size="28.361367407919715" font-weight="bold" text-anchor="start" fill="#000000">Distance (m)</text>
<text transform="translate(534.10,372.59) rotate(-90) scale(1,1.1)" font-size="27.899424991833257" font-weight="bold" text-anchor="start" fill="#000000">V̇O<tspan font-size="20.37" dy="5.02">2</tspan><tspan dy="-5.02"> (mL/kg/min)</tspan></text>
<text transform="translate(1312.40,393.19) rotate(-90) scale(1,1.1)" font-size="27.720808704075353" font-weight="bold" text-anchor="start" fill="#000000">V̇O<tspan font-size="20.24" dy="4.99">2</tspan><tspan dy="-4.99">max (mL/kg/min)</tspan></text>
<text transform="translate(1687.20,279.22) rotate(-90)" font-size="31.2" font-weight="normal" text-anchor="start" fill="#000000" font-family="Liberation Serif, serif"><tspan font-weight="normal" font-family="Liberation Serif, serif">Σ</tspan></text>
<text transform="translate(1688.00,256.93) rotate(-90) scale(1,1.064)" font-size="29.5" font-weight="bold" text-anchor="start" fill="#000000">W</text>
<text transform="translate(38.80,979.06) rotate(-90) scale(1,1.076)" font-size="29.299493365519993" font-weight="bold" text-anchor="start" fill="#000000">RER</text>
<text transform="translate(559.80,1021.32) rotate(-90) scale(1,1.04)" font-size="32.1" font-weight="bold" text-anchor="start" fill="#000000">Core</text>
<text transform="translate(559.80,937.70) rotate(-90) scale(1,1.04)" font-size="32.1" font-weight="bold" text-anchor="start" fill="#000000">(</text>
<text transform="translate(561.88,924.19) rotate(-90)" font-size="31" font-weight="normal" text-anchor="start" fill="#000000"><tspan font-weight="normal">°</tspan></text>
<text transform="translate(559.80,908.67) rotate(-90) scale(1,1.07)" font-size="31" font-weight="bold" text-anchor="start" fill="#000000">C</text>
<text transform="translate(559.80,883.83) rotate(-90) scale(1,1.04)" font-size="32.1" font-weight="bold" text-anchor="start" fill="#000000">)</text>
<text transform="translate(1339.60,1008.65) rotate(-90) scale(1,1.11)" font-size="30.8" font-weight="bold" text-anchor="start" fill="#000000">Tail</text>
<text transform="translate(1339.60,947.13) rotate(-90) scale(1,1.11)" font-size="30.8" font-weight="bold" text-anchor="start" fill="#000000">(</text>
<text transform="translate(1341.64,934.99) rotate(-90)" font-size="32" font-weight="normal" text-anchor="start" fill="#000000"><tspan font-weight="normal">°</tspan></text>
<text transform="translate(1339.60,918.86) rotate(-90) scale(1,1.11)" font-size="30.8" font-weight="bold" text-anchor="start" fill="#000000">C</text>
<text transform="translate(1339.60,894.03) rotate(-90) scale(1,1.11)" font-size="30.8" font-weight="bold" text-anchor="start" fill="#000000">)</text>
<text transform="translate(985.90,223.01) rotate(90) scale(1,1.08)" font-size="27.884533664960145" font-weight="bold" text-anchor="start" fill="#000000">%V̇O<tspan font-size="20.36" dy="4.18">2</tspan><tspan dy="-4.18">max (saline)</tspan></text>
<text transform="translate(1193.80,912.19) rotate(90) scale(1,1.03)" font-size="27.3" font-weight="normal" text-anchor="start" fill="#000000"><tspan font-weight="normal">Δ</tspan></text>
<text transform="translate(1193.00,940.96) rotate(90) scale(1,1.1)" font-size="28" font-weight="bold" text-anchor="start" fill="#000000">t</text>
<text transform="translate(1192.53,950.91) rotate(90)" font-size="30" font-weight="normal" text-anchor="start" fill="#000000"><tspan font-weight="normal">°</tspan></text>
<text transform="translate(1193.00,964.77) rotate(90) scale(1,1.12)" font-size="27.5" font-weight="bold" text-anchor="start" fill="#000000">C</text>
<text transform="translate(1962.00,910.79) rotate(90) scale(1,1.03)" font-size="27.3" font-weight="normal" text-anchor="start" fill="#000000"><tspan font-weight="normal">Δ</tspan></text>
<text transform="translate(1961.30,938.76) rotate(90) scale(1,1.1)" font-size="28" font-weight="bold" text-anchor="start" fill="#000000">t</text>
<text transform="translate(1960.53,948.81) rotate(90)" font-size="30" font-weight="normal" text-anchor="start" fill="#000000"><tspan font-weight="normal">°</tspan></text>
<text transform="translate(1961.30,962.65) rotate(90) scale(1,1.12)" font-size="28" font-weight="bold" text-anchor="start" fill="#000000">C</text>
<line x1="642.70" y1="399.70" x2="642.70" y2="416.70" stroke="#000000" stroke-width="1.7" stroke-linecap="butt"/>
<line x1="634.45" y1="399.70" x2="650.95" y2="399.70" stroke="#000000" stroke-width="1.7" stroke-linecap="butt"/>
<line x1="634.45" y1="416.70" x2="650.95" y2="416.70" stroke="#000000" stroke-width="1.7" stroke-linecap="butt"/>
<line x1="660.60" y1="385.50" x2="660.60" y2="401.50" stroke="#000000" stroke-width="1.7" stroke-linecap="butt"/>
<line x1="652.35" y1="385.50" x2="668.85" y2="385.50" stroke="#000000" stroke-width="1.7" stroke-linecap="butt"/>
<line x1="652.35" y1="401.50" x2="668.85" y2="401.50" stroke="#000000" stroke-width="1.7" stroke-linecap="butt"/>
<line x1="678.30" y1="376.50" x2="678.30" y2="392.50" stroke="#000000" stroke-width="1.7" stroke-linecap="butt"/>
<line x1="670.05" y1="376.50" x2="686.55" y2="376.50" stroke="#000000" stroke-width="1.7" stroke-linecap="butt"/>
<line x1="670.05" y1="392.50" x2="686.55" y2="392.50" stroke="#000000" stroke-width="1.7" stroke-linecap="butt"/>
<line x1="695.30" y1="360.00" x2="695.30" y2="378.00" stroke="#000000" stroke-width="1.7" stroke-linecap="butt"/>
<line x1="687.05" y1="360.00" x2="703.55" y2="360.00" stroke="#000000" stroke-width="1.7" stroke-linecap="butt"/>
<line x1="687.05" y1="378.00" x2="703.55" y2="378.00" stroke="#000000" stroke-width="1.7" stroke-linecap="butt"/>
<line x1="712.40" y1="337.00" x2="712.40" y2="359.00" stroke="#000000" stroke-width="1.7" stroke-linecap="butt"/>
<line x1="704.15" y1="337.00" x2="720.65" y2="337.00" stroke="#000000" stroke-width="1.7" stroke-linecap="butt"/>
<line x1="704.15" y1="359.00" x2="720.65" y2="359.00" stroke="#000000" stroke-width="1.7" stroke-linecap="butt"/>
<line x1="730.50" y1="315.50" x2="730.50" y2="337.50" stroke="#000000" stroke-width="1.7" stroke-linecap="butt"/>
<line x1="722.25" y1="315.50" x2="738.75" y2="315.50" stroke="#000000" stroke-width="1.7" stroke-linecap="butt"/>
<line x1="722.25" y1="337.50" x2="738.75" y2="337.50" stroke="#000000" stroke-width="1.7" stroke-linecap="butt"/>
<line x1="746.70" y1="281.80" x2="746.70" y2="310.20" stroke="#000000" stroke-width="1.7" stroke-linecap="butt"/>
<line x1="738.45" y1="281.80" x2="754.95" y2="281.80" stroke="#000000" stroke-width="1.7" stroke-linecap="butt"/>
<line x1="738.45" y1="310.20" x2="754.95" y2="310.20" stroke="#000000" stroke-width="1.7" stroke-linecap="butt"/>
<line x1="762.80" y1="261.50" x2="762.80" y2="289.50" stroke="#000000" stroke-width="1.7" stroke-linecap="butt"/>
<line x1="754.55" y1="261.50" x2="771.05" y2="261.50" stroke="#000000" stroke-width="1.7" stroke-linecap="butt"/>
<line x1="754.55" y1="289.50" x2="771.05" y2="289.50" stroke="#000000" stroke-width="1.7" stroke-linecap="butt"/>
<line x1="776.70" y1="234.00" x2="776.70" y2="272.00" stroke="#000000" stroke-width="1.7" stroke-linecap="butt"/>
<line x1="768.45" y1="234.00" x2="784.95" y2="234.00" stroke="#000000" stroke-width="1.7" stroke-linecap="butt"/>
<line x1="768.45" y1="272.00" x2="784.95" y2="272.00" stroke="#000000" stroke-width="1.7" stroke-linecap="butt"/>
<line x1="767.70" y1="253.00" x2="785.70" y2="253.00" stroke="#000000" stroke-width="1.7" stroke-linecap="butt"/>
<line x1="767.70" y1="244.75" x2="767.70" y2="261.25" stroke="#000000" stroke-width="1.7" stroke-linecap="butt"/>
<line x1="785.70" y1="244.75" x2="785.70" y2="261.25" stroke="#000000" stroke-width="1.7" stroke-linecap="butt"/>
<line x1="800.30" y1="233.90" x2="800.30" y2="271.50" stroke="#000000" stroke-width="1.7" stroke-linecap="butt"/>
<line x1="792.05" y1="233.90" x2="808.55" y2="233.90" stroke="#000000" stroke-width="1.7" stroke-linecap="butt"/>
<line x1="792.05" y1="271.50" x2="808.55" y2="271.50" stroke="#000000" stroke-width="1.7" stroke-linecap="butt"/>
<line x1="789.60" y1="252.70" x2="811.00" y2="252.70" stroke="#000000" stroke-width="1.7" stroke-linecap="butt"/>
<line x1="789.60" y1="244.45" x2="789.60" y2="260.95" stroke="#000000" stroke-width="1.7" stroke-linecap="butt"/>
<line x1="811.00" y1="244.45" x2="811.00" y2="260.95" stroke="#000000" stroke-width="1.7" stroke-linecap="butt"/>
<circle cx="642.70" cy="408.20" r="7.4" fill="#000000" stroke="#000000" stroke-width="1.7"/>
<circle cx="660.60" cy="393.50" r="7.4" fill="#000000" stroke="#000000" stroke-width="1.7"/>
<circle cx="678.30" cy="384.50" r="7.4" fill="#000000" stroke="#000000" stroke-width="1.7"/>
<circle cx="695.30" cy="369.00" r="7.4" fill="#000000" stroke="#000000" stroke-width="1.7"/>
<circle cx="712.40" cy="348.00" r="7.4" fill="#000000" stroke="#000000" stroke-width="1.7"/>
<circle cx="730.50" cy="326.50" r="7.4" fill="#000000" stroke="#000000" stroke-width="1.7"/>
<circle cx="746.70" cy="296.00" r="7.4" fill="#000000" stroke="#000000" stroke-width="1.7"/>
<circle cx="762.80" cy="275.50" r="7.4" fill="#000000" stroke="#000000" stroke-width="1.7"/>
<circle cx="776.70" cy="253.00" r="7.4" fill="#000000" stroke="#000000" stroke-width="1.7"/>
<circle cx="800.30" cy="252.70" r="7.4" fill="#000000" stroke="#000000" stroke-width="1.7"/>
<line x1="645.10" y1="383.80" x2="645.10" y2="391.80" stroke="#b00000" stroke-width="1.7" stroke-linecap="butt"/>
<line x1="636.85" y1="383.80" x2="653.35" y2="383.80" stroke="#b00000" stroke-width="1.7" stroke-linecap="butt"/>
<line x1="636.85" y1="391.80" x2="653.35" y2="391.80" stroke="#b00000" stroke-width="1.7" stroke-linecap="butt"/>
<line x1="662.80" y1="374.60" x2="662.80" y2="384.60" stroke="#b00000" stroke-width="1.7" stroke-linecap="butt"/>
<line x1="654.55" y1="374.60" x2="671.05" y2="374.60" stroke="#b00000" stroke-width="1.7" stroke-linecap="butt"/>
<line x1="654.55" y1="384.60" x2="671.05" y2="384.60" stroke="#b00000" stroke-width="1.7" stroke-linecap="butt"/>
<line x1="680.60" y1="360.90" x2="680.60" y2="377.10" stroke="#b00000" stroke-width="1.7" stroke-linecap="butt"/>
<line x1="672.35" y1="360.90" x2="688.85" y2="360.90" stroke="#b00000" stroke-width="1.7" stroke-linecap="butt"/>
<line x1="672.35" y1="377.10" x2="688.85" y2="377.10" stroke="#b00000" stroke-width="1.7" stroke-linecap="butt"/>
<line x1="698.20" y1="346.10" x2="698.20" y2="365.10" stroke="#b00000" stroke-width="1.7" stroke-linecap="butt"/>
<line x1="689.95" y1="346.10" x2="706.45" y2="346.10" stroke="#b00000" stroke-width="1.7" stroke-linecap="butt"/>
<line x1="689.95" y1="365.10" x2="706.45" y2="365.10" stroke="#b00000" stroke-width="1.7" stroke-linecap="butt"/>
<line x1="716.20" y1="320.10" x2="716.20" y2="340.50" stroke="#b00000" stroke-width="1.7" stroke-linecap="butt"/>
<line x1="707.95" y1="320.10" x2="724.45" y2="320.10" stroke="#b00000" stroke-width="1.7" stroke-linecap="butt"/>
<line x1="707.95" y1="340.50" x2="724.45" y2="340.50" stroke="#b00000" stroke-width="1.7" stroke-linecap="butt"/>
<line x1="733.90" y1="294.50" x2="733.90" y2="319.10" stroke="#b00000" stroke-width="1.7" stroke-linecap="butt"/>
<line x1="725.65" y1="294.50" x2="742.15" y2="294.50" stroke="#b00000" stroke-width="1.7" stroke-linecap="butt"/>
<line x1="725.65" y1="319.10" x2="742.15" y2="319.10" stroke="#b00000" stroke-width="1.7" stroke-linecap="butt"/>
<line x1="751.80" y1="267.90" x2="751.80" y2="290.50" stroke="#b00000" stroke-width="1.7" stroke-linecap="butt"/>
<line x1="743.55" y1="267.90" x2="760.05" y2="267.90" stroke="#b00000" stroke-width="1.7" stroke-linecap="butt"/>
<line x1="743.55" y1="290.50" x2="760.05" y2="290.50" stroke="#b00000" stroke-width="1.7" stroke-linecap="butt"/>
<line x1="769.70" y1="251.20" x2="769.70" y2="271.80" stroke="#b00000" stroke-width="1.7" stroke-linecap="butt"/>
<line x1="761.45" y1="251.20" x2="777.95" y2="251.20" stroke="#b00000" stroke-width="1.7" stroke-linecap="butt"/>
<line x1="761.45" y1="271.80" x2="777.95" y2="271.80" stroke="#b00000" stroke-width="1.7" stroke-linecap="butt"/>
<line x1="787.30" y1="210.40" x2="787.30" y2="235.20" stroke="#b00000" stroke-width="1.7" stroke-linecap="butt"/>
<line x1="779.05" y1="210.40" x2="795.55" y2="210.40" stroke="#b00000" stroke-width="1.7" stroke-linecap="butt"/>
<line x1="779.05" y1="235.20" x2="795.55" y2="235.20" stroke="#b00000" stroke-width="1.7" stroke-linecap="butt"/>
<line x1="804.90" y1="180.70" x2="804.90" y2="212.70" stroke="#b00000" stroke-width="1.7" stroke-linecap="butt"/>
<line x1="796.65" y1="180.70" x2="813.15" y2="180.70" stroke="#b00000" stroke-width="1.7" stroke-linecap="butt"/>
<line x1="796.65" y1="212.70" x2="813.15" y2="212.70" stroke="#b00000" stroke-width="1.7" stroke-linecap="butt"/>
<line x1="825.00" y1="162.90" x2="825.00" y2="182.10" stroke="#b00000" stroke-width="1.7" stroke-linecap="butt"/>
<line x1="816.75" y1="162.90" x2="833.25" y2="162.90" stroke="#b00000" stroke-width="1.7" stroke-linecap="butt"/>
<line x1="816.75" y1="182.10" x2="833.25" y2="182.10" stroke="#b00000" stroke-width="1.7" stroke-linecap="butt"/>
<line x1="817.30" y1="172.50" x2="832.70" y2="172.50" stroke="#b00000" stroke-width="1.7" stroke-linecap="butt"/>
<line x1="817.30" y1="164.25" x2="817.30" y2="180.75" stroke="#b00000" stroke-width="1.7" stroke-linecap="butt"/>
<line x1="832.70" y1="164.25" x2="832.70" y2="180.75" stroke="#b00000" stroke-width="1.7" stroke-linecap="butt"/>
<line x1="847.80" y1="123.20" x2="847.80" y2="149.60" stroke="#b00000" stroke-width="1.7" stroke-linecap="butt"/>
<line x1="839.55" y1="123.20" x2="856.05" y2="123.20" stroke="#b00000" stroke-width="1.7" stroke-linecap="butt"/>
<line x1="839.55" y1="149.60" x2="856.05" y2="149.60" stroke="#b00000" stroke-width="1.7" stroke-linecap="butt"/>
<line x1="838.40" y1="136.40" x2="857.20" y2="136.40" stroke="#b00000" stroke-width="1.7" stroke-linecap="butt"/>
<line x1="838.40" y1="128.15" x2="838.40" y2="144.65" stroke="#b00000" stroke-width="1.7" stroke-linecap="butt"/>
<line x1="857.20" y1="128.15" x2="857.20" y2="144.65" stroke="#b00000" stroke-width="1.7" stroke-linecap="butt"/>
<circle cx="645.10" cy="387.80" r="7.4" fill="#ff0000" stroke="#b00000" stroke-width="1.7"/>
<circle cx="662.80" cy="379.60" r="7.4" fill="#ff0000" stroke="#b00000" stroke-width="1.7"/>
<circle cx="680.60" cy="369.00" r="7.4" fill="#ff0000" stroke="#b00000" stroke-width="1.7"/>
<circle cx="698.20" cy="355.60" r="7.4" fill="#ff0000" stroke="#b00000" stroke-width="1.7"/>
<circle cx="716.20" cy="330.30" r="7.4" fill="#ff0000" stroke="#b00000" stroke-width="1.7"/>
<circle cx="733.90" cy="306.80" r="7.4" fill="#ff0000" stroke="#b00000" stroke-width="1.7"/>
<circle cx="751.80" cy="279.20" r="7.4" fill="#ff0000" stroke="#b00000" stroke-width="1.7"/>
<circle cx="769.70" cy="261.50" r="7.4" fill="#ff0000" stroke="#b00000" stroke-width="1.7"/>
<circle cx="787.30" cy="222.80" r="7.4" fill="#ff0000" stroke="#b00000" stroke-width="1.7"/>
<circle cx="804.90" cy="196.70" r="7.4" fill="#ff0000" stroke="#b00000" stroke-width="1.7"/>
<circle cx="825.00" cy="172.50" r="7.4" fill="#ff0000" stroke="#b00000" stroke-width="1.7"/>
<circle cx="847.80" cy="136.40" r="7.4" fill="#ff0000" stroke="#b00000" stroke-width="1.7"/>
<line x1="644.80" y1="428.00" x2="644.80" y2="445.60" stroke="#808000" stroke-width="1.7" stroke-linecap="butt"/>
<line x1="636.55" y1="428.00" x2="653.05" y2="428.00" stroke="#808000" stroke-width="1.7" stroke-linecap="butt"/>
<line x1="636.55" y1="445.60" x2="653.05" y2="445.60" stroke="#808000" stroke-width="1.7" stroke-linecap="butt"/>
<line x1="662.30" y1="420.10" x2="662.30" y2="441.50" stroke="#808000" stroke-width="1.7" stroke-linecap="butt"/>
<line x1="654.05" y1="420.10" x2="670.55" y2="420.10" stroke="#808000" stroke-width="1.7" stroke-linecap="butt"/>
<line x1="654.05" y1="441.50" x2="670.55" y2="441.50" stroke="#808000" stroke-width="1.7" stroke-linecap="butt"/>
<line x1="680.60" y1="410.30" x2="680.60" y2="434.90" stroke="#808000" stroke-width="1.7" stroke-linecap="butt"/>
<line x1="672.35" y1="410.30" x2="688.85" y2="410.30" stroke="#808000" stroke-width="1.7" stroke-linecap="butt"/>
<line x1="672.35" y1="434.90" x2="688.85" y2="434.90" stroke="#808000" stroke-width="1.7" stroke-linecap="butt"/>
<line x1="698.20" y1="389.80" x2="698.20" y2="417.80" stroke="#808000" stroke-width="1.7" stroke-linecap="butt"/>
<line x1="689.95" y1="389.80" x2="706.45" y2="389.80" stroke="#808000" stroke-width="1.7" stroke-linecap="butt"/>
<line x1="689.95" y1="417.80" x2="706.45" y2="417.80" stroke="#808000" stroke-width="1.7" stroke-linecap="butt"/>
<line x1="715.80" y1="361.20" x2="715.80" y2="393.20" stroke="#808000" stroke-width="1.7" stroke-linecap="butt"/>
<line x1="707.55" y1="361.20" x2="724.05" y2="361.20" stroke="#808000" stroke-width="1.7" stroke-linecap="butt"/>
<line x1="707.55" y1="393.20" x2="724.05" y2="393.20" stroke="#808000" stroke-width="1.7" stroke-linecap="butt"/>
<line x1="734.30" y1="344.50" x2="734.30" y2="374.90" stroke="#808000" stroke-width="1.7" stroke-linecap="butt"/>
<line x1="726.05" y1="344.50" x2="742.55" y2="344.50" stroke="#808000" stroke-width="1.7" stroke-linecap="butt"/>
<line x1="726.05" y1="374.90" x2="742.55" y2="374.90" stroke="#808000" stroke-width="1.7" stroke-linecap="butt"/>
<line x1="753.50" y1="316.30" x2="753.50" y2="355.50" stroke="#808000" stroke-width="1.7" stroke-linecap="butt"/>
<line x1="745.25" y1="316.30" x2="761.75" y2="316.30" stroke="#808000" stroke-width="1.7" stroke-linecap="butt"/>
<line x1="745.25" y1="355.50" x2="761.75" y2="355.50" stroke="#808000" stroke-width="1.7" stroke-linecap="butt"/>
<line x1="776.00" y1="308.00" x2="776.00" y2="352.00" stroke="#808000" stroke-width="1.7" stroke-linecap="butt"/>
<line x1="767.75" y1="308.00" x2="784.25" y2="308.00" stroke="#808000" stroke-width="1.7" stroke-linecap="butt"/>
<line x1="767.75" y1="352.00" x2="784.25" y2="352.00" stroke="#808000" stroke-width="1.7" stroke-linecap="butt"/>
<line x1="793.30" y1="275.00" x2="793.30" y2="311.00" stroke="#808000" stroke-width="1.7" stroke-linecap="butt"/>
<line x1="785.05" y1="275.00" x2="801.55" y2="275.00" stroke="#808000" stroke-width="1.7" stroke-linecap="butt"/>
<line x1="785.05" y1="311.00" x2="801.55" y2="311.00" stroke="#808000" stroke-width="1.7" stroke-linecap="butt"/>
<line x1="813.40" y1="251.60" x2="813.40" y2="286.40" stroke="#808000" stroke-width="1.7" stroke-linecap="butt"/>
<line x1="805.15" y1="251.60" x2="821.65" y2="251.60" stroke="#808000" stroke-width="1.7" stroke-linecap="butt"/>
<line x1="805.15" y1="286.40" x2="821.65" y2="286.40" stroke="#808000" stroke-width="1.7" stroke-linecap="butt"/>
<line x1="804.00" y1="269.00" x2="822.80" y2="269.00" stroke="#808000" stroke-width="1.7" stroke-linecap="butt"/>
<line x1="804.00" y1="260.75" x2="804.00" y2="277.25" stroke="#808000" stroke-width="1.7" stroke-linecap="butt"/>
<line x1="822.80" y1="260.75" x2="822.80" y2="277.25" stroke="#808000" stroke-width="1.7" stroke-linecap="butt"/>
<circle cx="644.80" cy="436.80" r="7.4" fill="#ffff00" stroke="#808000" stroke-width="1.7"/>
<circle cx="662.30" cy="430.80" r="7.4" fill="#ffff00" stroke="#808000" stroke-width="1.7"/>
<circle cx="680.60" cy="422.60" r="7.4" fill="#ffff00" stroke="#808000" stroke-width="1.7"/>
<circle cx="698.20" cy="403.80" r="7.4" fill="#ffff00" stroke="#808000" stroke-width="1.7"/>
<circle cx="715.80" cy="377.20" r="7.4" fill="#ffff00" stroke="#808000" stroke-width="1.7"/>
<circle cx="734.30" cy="359.70" r="7.4" fill="#ffff00" stroke="#808000" stroke-width="1.7"/>
<circle cx="753.50" cy="335.90" r="7.4" fill="#ffff00" stroke="#808000" stroke-width="1.7"/>
<circle cx="776.00" cy="330.00" r="7.4" fill="#ffff00" stroke="#808000" stroke-width="1.7"/>
<circle cx="793.30" cy="293.00" r="7.4" fill="#ffff00" stroke="#808000" stroke-width="1.7"/>
<circle cx="813.40" cy="269.00" r="7.4" fill="#ffff00" stroke="#808000" stroke-width="1.7"/>
<line x1="642.30" y1="402.20" x2="642.30" y2="414.20" stroke="#005000" stroke-width="1.7" stroke-linecap="butt"/>
<line x1="634.05" y1="402.20" x2="650.55" y2="402.20" stroke="#005000" stroke-width="1.7" stroke-linecap="butt"/>
<line x1="634.05" y1="414.20" x2="650.55" y2="414.20" stroke="#005000" stroke-width="1.7" stroke-linecap="butt"/>
<line x1="658.70" y1="395.40" x2="658.70" y2="407.40" stroke="#005000" stroke-width="1.7" stroke-linecap="butt"/>
<line x1="650.45" y1="395.40" x2="666.95" y2="395.40" stroke="#005000" stroke-width="1.7" stroke-linecap="butt"/>
<line x1="650.45" y1="407.40" x2="666.95" y2="407.40" stroke="#005000" stroke-width="1.7" stroke-linecap="butt"/>
<line x1="675.70" y1="392.40" x2="675.70" y2="404.40" stroke="#005000" stroke-width="1.7" stroke-linecap="butt"/>
<line x1="667.45" y1="392.40" x2="683.95" y2="392.40" stroke="#005000" stroke-width="1.7" stroke-linecap="butt"/>
<line x1="667.45" y1="404.40" x2="683.95" y2="404.40" stroke="#005000" stroke-width="1.7" stroke-linecap="butt"/>
<line x1="692.50" y1="373.60" x2="692.50" y2="385.60" stroke="#005000" stroke-width="1.7" stroke-linecap="butt"/>
<line x1="684.25" y1="373.60" x2="700.75" y2="373.60" stroke="#005000" stroke-width="1.7" stroke-linecap="butt"/>
<line x1="684.25" y1="385.60" x2="700.75" y2="385.60" stroke="#005000" stroke-width="1.7" stroke-linecap="butt"/>
<line x1="709.30" y1="355.30" x2="709.30" y2="374.30" stroke="#005000" stroke-width="1.7" stroke-linecap="butt"/>
<line x1="701.05" y1="355.30" x2="717.55" y2="355.30" stroke="#005000" stroke-width="1.7" stroke-linecap="butt"/>
<line x1="701.05" y1="374.30" x2="717.55" y2="374.30" stroke="#005000" stroke-width="1.7" stroke-linecap="butt"/>
<line x1="726.00" y1="358.50" x2="726.00" y2="370.50" stroke="#005000" stroke-width="1.7" stroke-linecap="butt"/>
<line x1="717.75" y1="358.50" x2="734.25" y2="358.50" stroke="#005000" stroke-width="1.7" stroke-linecap="butt"/>
<line x1="717.75" y1="370.50" x2="734.25" y2="370.50" stroke="#005000" stroke-width="1.7" stroke-linecap="butt"/>
<line x1="745.10" y1="312.50" x2="745.10" y2="358.50" stroke="#005000" stroke-width="1.7" stroke-linecap="butt"/>
<line x1="736.85" y1="312.50" x2="753.35" y2="312.50" stroke="#005000" stroke-width="1.7" stroke-linecap="butt"/>
<line x1="736.85" y1="358.50" x2="753.35" y2="358.50" stroke="#005000" stroke-width="1.7" stroke-linecap="butt"/>
<line x1="762.10" y1="318.40" x2="762.10" y2="341.20" stroke="#005000" stroke-width="1.7" stroke-linecap="butt"/>
<line x1="753.85" y1="318.40" x2="770.35" y2="318.40" stroke="#005000" stroke-width="1.7" stroke-linecap="butt"/>
<line x1="753.85" y1="341.20" x2="770.35" y2="341.20" stroke="#005000" stroke-width="1.7" stroke-linecap="butt"/>
<line x1="774.00" y1="290.10" x2="774.00" y2="322.90" stroke="#005000" stroke-width="1.7" stroke-linecap="butt"/>
<line x1="765.75" y1="290.10" x2="782.25" y2="290.10" stroke="#005000" stroke-width="1.7" stroke-linecap="butt"/>
<line x1="765.75" y1="322.90" x2="782.25" y2="322.90" stroke="#005000" stroke-width="1.7" stroke-linecap="butt"/>
<circle cx="642.30" cy="408.20" r="7.4" fill="#00ff00" stroke="#005000" stroke-width="1.7"/>
<circle cx="658.70" cy="401.40" r="7.4" fill="#00ff00" stroke="#005000" stroke-width="1.7"/>
<circle cx="675.70" cy="398.40" r="7.4" fill="#00ff00" stroke="#005000" stroke-width="1.7"/>
<circle cx="692.50" cy="379.60" r="7.4" fill="#00ff00" stroke="#005000" stroke-width="1.7"/>
<circle cx="709.30" cy="364.80" r="7.4" fill="#00ff00" stroke="#005000" stroke-width="1.7"/>
<circle cx="726.00" cy="364.50" r="7.4" fill="#00ff00" stroke="#005000" stroke-width="1.7"/>
<circle cx="745.10" cy="335.50" r="7.4" fill="#00ff00" stroke="#005000" stroke-width="1.7"/>
<circle cx="762.10" cy="329.80" r="7.4" fill="#00ff00" stroke="#005000" stroke-width="1.7"/>
<circle cx="774.00" cy="306.50" r="7.4" fill="#00ff00" stroke="#005000" stroke-width="1.7"/>
<line x1="591.90" y1="265.40" x2="904.30" y2="265.40" stroke="#000000" stroke-width="3.5" stroke-linecap="round" stroke-dasharray="3.3 8.47"/>
<rect x="591.9" y="65.3" width="314.4" height="393.0" fill="none" stroke="#000" stroke-width="3.4" stroke-linejoin="round"/>
<line x1="591.90" y1="458.30" x2="597.75" y2="458.30" stroke="#000000" stroke-width="3.5" stroke-linecap="round"/>
<line x1="591.90" y1="327.30" x2="597.75" y2="327.30" stroke="#000000" stroke-width="3.5" stroke-linecap="round"/>
<line x1="591.90" y1="196.30" x2="597.75" y2="196.30" stroke="#000000" stroke-width="3.5" stroke-linecap="round"/>
<line x1="591.90" y1="65.30" x2="597.75" y2="65.30" stroke="#000000" stroke-width="3.5" stroke-linecap="round"/>
<line x1="591.90" y1="392.80" x2="595.15" y2="392.80" stroke="#000000" stroke-width="3.5" stroke-linecap="round"/>
<line x1="591.90" y1="261.80" x2="595.15" y2="261.80" stroke="#000000" stroke-width="3.5" stroke-linecap="round"/>
<line x1="591.90" y1="130.80" x2="595.15" y2="130.80" stroke="#000000" stroke-width="3.5" stroke-linecap="round"/>
<line x1="717.66" y1="458.30" x2="717.66" y2="447.65" stroke="#000000" stroke-width="3.5" stroke-linecap="round"/>
<line x1="843.42" y1="458.30" x2="843.42" y2="447.65" stroke="#000000" stroke-width="3.5" stroke-linecap="round"/>
<line x1="654.78" y1="458.30" x2="654.78" y2="452.55" stroke="#000000" stroke-width="3.5" stroke-linecap="round"/>
<line x1="780.54" y1="458.30" x2="780.54" y2="452.55" stroke="#000000" stroke-width="3.5" stroke-linecap="round"/>
<line x1="906.30" y1="409.94" x2="901.85" y2="409.94" stroke="#000000" stroke-width="3.5" stroke-linecap="round"/>
<line x1="906.30" y1="361.57" x2="901.85" y2="361.57" stroke="#000000" stroke-width="3.5" stroke-linecap="round"/>
<line x1="906.30" y1="313.21" x2="901.85" y2="313.21" stroke="#000000" stroke-width="3.5" stroke-linecap="round"/>
<line x1="906.30" y1="264.85" x2="901.85" y2="264.85" stroke="#000000" stroke-width="3.5" stroke-linecap="round"/>
<text transform="translate(587.84,467.89)" font-size="27.8" font-weight="bold" text-anchor="end" fill="#000000">0</text>
<text transform="translate(587.84,336.89)" font-size="27.8" font-weight="bold" text-anchor="end" fill="#000000">100</text>
<text transform="translate(587.84,205.89)" font-size="27.8" font-weight="bold" text-anchor="end" fill="#000000">200</text>
<text transform="translate(587.84,74.89)" font-size="27.8" font-weight="bold" text-anchor="end" fill="#000000">300</text>
<text transform="translate(914.75,419.43)" font-size="27.5" font-weight="bold" text-anchor="start" fill="#000000">25</text>
<text transform="translate(914.85,371.06)" font-size="27.5" font-weight="bold" text-anchor="start" fill="#000000">50</text>
<text transform="translate(914.52,322.70)" font-size="27.5" font-weight="bold" text-anchor="start" fill="#000000">75</text>
<text transform="translate(913.97,274.34)" font-size="27.5" font-weight="bold" text-anchor="start" fill="#000000">100</text>
<text transform="translate(591.90,487.20)" font-size="27.8" font-weight="bold" text-anchor="middle" fill="#000000">0.0</text>
<text transform="translate(717.66,487.20)" font-size="27.8" font-weight="bold" text-anchor="middle" fill="#000000">0.1</text>
<text transform="translate(843.42,487.20)" font-size="27.8" font-weight="bold" text-anchor="middle" fill="#000000">0.2</text>
<text transform="translate(676.87,529.30)" font-size="28.9" font-weight="bold" text-anchor="start" fill="#000000">Power (W)</text>
<circle cx="944.9" cy="42.1" r="7.6" fill="#000000" stroke="#000000" stroke-width="1.7"/>
<circle cx="944.9" cy="86.9" r="7.6" fill="#ff0000" stroke="#b00000" stroke-width="1.7"/>
<circle cx="944.9" cy="134.5" r="7.6" fill="#ffff00" stroke="#808000" stroke-width="1.7"/>
<circle cx="944.9" cy="179.7" r="7.6" fill="#00ff00" stroke="#005000" stroke-width="1.7"/>
<text transform="translate(989.00,51.10)" font-size="28.6" font-weight="bold" text-anchor="start" fill="#000000">saline</text>
<text transform="translate(989.00,96.30)" font-size="28.6" font-weight="bold" text-anchor="start" fill="#990000">caffeine</text>
<text transform="translate(989.00,141.90)" font-size="28.6" font-weight="bold" text-anchor="start" fill="#808000">A<tspan font-size="21.2" dy="6.2">2A</tspan><tspan dy="-6.2">R KO saline</tspan></text>
<text transform="translate(989.00,187.20)" font-size="28.6" font-weight="bold" text-anchor="start" fill="#005a00">A<tspan font-size="21.2" dy="6.2">2A</tspan><tspan dy="-6.2">R KO caffeine</tspan></text>
<line x1="160.50" y1="907.00" x2="160.50" y2="975.00" stroke="#000000" stroke-width="1.7" stroke-linecap="butt"/>
<line x1="152.25" y1="907.00" x2="168.75" y2="907.00" stroke="#000000" stroke-width="1.7" stroke-linecap="butt"/>
<line x1="152.25" y1="975.00" x2="168.75" y2="975.00" stroke="#000000" stroke-width="1.7" stroke-linecap="butt"/>
<line x1="182.50" y1="915.60" x2="182.50" y2="939.60" stroke="#000000" stroke-width="1.7" stroke-linecap="butt"/>
<line x1="174.25" y1="915.60" x2="190.75" y2="915.60" stroke="#000000" stroke-width="1.7" stroke-linecap="butt"/>
<line x1="174.25" y1="939.60" x2="190.75" y2="939.60" stroke="#000000" stroke-width="1.7" stroke-linecap="butt"/>
<line x1="203.80" y1="876.30" x2="203.80" y2="919.50" stroke="#000000" stroke-width="1.7" stroke-linecap="butt"/>
<line x1="195.55" y1="876.30" x2="212.05" y2="876.30" stroke="#000000" stroke-width="1.7" stroke-linecap="butt"/>
<line x1="195.55" y1="919.50" x2="212.05" y2="919.50" stroke="#000000" stroke-width="1.7" stroke-linecap="butt"/>
<line x1="225.60" y1="869.70" x2="225.60" y2="911.70" stroke="#000000" stroke-width="1.7" stroke-linecap="butt"/>
<line x1="217.35" y1="869.70" x2="233.85" y2="869.70" stroke="#000000" stroke-width="1.7" stroke-linecap="butt"/>
<line x1="217.35" y1="911.70" x2="233.85" y2="911.70" stroke="#000000" stroke-width="1.7" stroke-linecap="butt"/>
<line x1="248.00" y1="870.50" x2="248.00" y2="912.50" stroke="#000000" stroke-width="1.7" stroke-linecap="butt"/>
<line x1="239.75" y1="870.50" x2="256.25" y2="870.50" stroke="#000000" stroke-width="1.7" stroke-linecap="butt"/>
<line x1="239.75" y1="912.50" x2="256.25" y2="912.50" stroke="#000000" stroke-width="1.7" stroke-linecap="butt"/>
<line x1="268.70" y1="869.60" x2="268.70" y2="905.60" stroke="#000000" stroke-width="1.7" stroke-linecap="butt"/>
<line x1="260.45" y1="869.60" x2="276.95" y2="869.60" stroke="#000000" stroke-width="1.7" stroke-linecap="butt"/>
<line x1="260.45" y1="905.60" x2="276.95" y2="905.60" stroke="#000000" stroke-width="1.7" stroke-linecap="butt"/>
<line x1="288.70" y1="883.00" x2="288.70" y2="913.00" stroke="#000000" stroke-width="1.7" stroke-linecap="butt"/>
<line x1="280.45" y1="883.00" x2="296.95" y2="883.00" stroke="#000000" stroke-width="1.7" stroke-linecap="butt"/>
<line x1="280.45" y1="913.00" x2="296.95" y2="913.00" stroke="#000000" stroke-width="1.7" stroke-linecap="butt"/>
<line x1="309.30" y1="891.30" x2="309.30" y2="923.30" stroke="#000000" stroke-width="1.7" stroke-linecap="butt"/>
<line x1="301.05" y1="891.30" x2="317.55" y2="891.30" stroke="#000000" stroke-width="1.7" stroke-linecap="butt"/>
<line x1="301.05" y1="923.30" x2="317.55" y2="923.30" stroke="#000000" stroke-width="1.7" stroke-linecap="butt"/>
<line x1="326.90" y1="885.20" x2="326.90" y2="925.20" stroke="#000000" stroke-width="1.7" stroke-linecap="butt"/>
<line x1="318.65" y1="885.20" x2="335.15" y2="885.20" stroke="#000000" stroke-width="1.7" stroke-linecap="butt"/>
<line x1="318.65" y1="925.20" x2="335.15" y2="925.20" stroke="#000000" stroke-width="1.7" stroke-linecap="butt"/>
<line x1="356.60" y1="883.30" x2="356.60" y2="902.30" stroke="#000000" stroke-width="1.7" stroke-linecap="butt"/>
<line x1="348.35" y1="883.30" x2="364.85" y2="883.30" stroke="#000000" stroke-width="1.7" stroke-linecap="butt"/>
<line x1="348.35" y1="902.30" x2="364.85" y2="902.30" stroke="#000000" stroke-width="1.7" stroke-linecap="butt"/>
<line x1="343.90" y1="892.80" x2="369.30" y2="892.80" stroke="#000000" stroke-width="1.7" stroke-linecap="butt"/>
<line x1="343.90" y1="884.55" x2="343.90" y2="901.05" stroke="#000000" stroke-width="1.7" stroke-linecap="butt"/>
<line x1="369.30" y1="884.55" x2="369.30" y2="901.05" stroke="#000000" stroke-width="1.7" stroke-linecap="butt"/>
<circle cx="160.50" cy="941.00" r="7.4" fill="#000000" stroke="#000000" stroke-width="1.7"/>
<circle cx="182.50" cy="927.60" r="7.4" fill="#000000" stroke="#000000" stroke-width="1.7"/>
<circle cx="203.80" cy="897.90" r="7.4" fill="#000000" stroke="#000000" stroke-width="1.7"/>
<circle cx="225.60" cy="890.70" r="7.4" fill="#000000" stroke="#000000" stroke-width="1.7"/>
<circle cx="248.00" cy="891.50" r="7.4" fill="#000000" stroke="#000000" stroke-width="1.7"/>
<circle cx="268.70" cy="887.60" r="7.4" fill="#000000" stroke="#000000" stroke-width="1.7"/>
<circle cx="288.70" cy="898.00" r="7.4" fill="#000000" stroke="#000000" stroke-width="1.7"/>
<circle cx="309.30" cy="907.30" r="7.4" fill="#000000" stroke="#000000" stroke-width="1.7"/>
<circle cx="326.90" cy="905.20" r="7.4" fill="#000000" stroke="#000000" stroke-width="1.7"/>
<circle cx="356.60" cy="892.80" r="7.4" fill="#000000" stroke="#000000" stroke-width="1.7"/>
<line x1="162.20" y1="896.20" x2="162.20" y2="961.20" stroke="#b00000" stroke-width="1.7" stroke-linecap="butt"/>
<line x1="153.95" y1="896.20" x2="170.45" y2="896.20" stroke="#b00000" stroke-width="1.7" stroke-linecap="butt"/>
<line x1="153.95" y1="961.20" x2="170.45" y2="961.20" stroke="#b00000" stroke-width="1.7" stroke-linecap="butt"/>
<line x1="184.40" y1="904.60" x2="184.40" y2="963.20" stroke="#b00000" stroke-width="1.7" stroke-linecap="butt"/>
<line x1="176.15" y1="904.60" x2="192.65" y2="904.60" stroke="#b00000" stroke-width="1.7" stroke-linecap="butt"/>
<line x1="176.15" y1="963.20" x2="192.65" y2="963.20" stroke="#b00000" stroke-width="1.7" stroke-linecap="butt"/>
<line x1="207.30" y1="905.60" x2="207.30" y2="958.80" stroke="#b00000" stroke-width="1.7" stroke-linecap="butt"/>
<line x1="199.05" y1="905.60" x2="215.55" y2="905.60" stroke="#b00000" stroke-width="1.7" stroke-linecap="butt"/>
<line x1="199.05" y1="958.80" x2="215.55" y2="958.80" stroke="#b00000" stroke-width="1.7" stroke-linecap="butt"/>
<line x1="229.30" y1="901.40" x2="229.30" y2="951.40" stroke="#b00000" stroke-width="1.7" stroke-linecap="butt"/>
<line x1="221.05" y1="901.40" x2="237.55" y2="901.40" stroke="#b00000" stroke-width="1.7" stroke-linecap="butt"/>
<line x1="221.05" y1="951.40" x2="237.55" y2="951.40" stroke="#b00000" stroke-width="1.7" stroke-linecap="butt"/>
<line x1="252.20" y1="900.00" x2="252.20" y2="950.00" stroke="#b00000" stroke-width="1.7" stroke-linecap="butt"/>
<line x1="243.95" y1="900.00" x2="260.45" y2="900.00" stroke="#b00000" stroke-width="1.7" stroke-linecap="butt"/>
<line x1="243.95" y1="950.00" x2="260.45" y2="950.00" stroke="#b00000" stroke-width="1.7" stroke-linecap="butt"/>
<line x1="274.20" y1="889.40" x2="274.20" y2="946.00" stroke="#b00000" stroke-width="1.7" stroke-linecap="butt"/>
<line x1="265.95" y1="889.40" x2="282.45" y2="889.40" stroke="#b00000" stroke-width="1.7" stroke-linecap="butt"/>
<line x1="265.95" y1="946.00" x2="282.45" y2="946.00" stroke="#b00000" stroke-width="1.7" stroke-linecap="butt"/>
<line x1="296.50" y1="883.40" x2="296.50" y2="937.40" stroke="#b00000" stroke-width="1.7" stroke-linecap="butt"/>
<line x1="288.25" y1="883.40" x2="304.75" y2="883.40" stroke="#b00000" stroke-width="1.7" stroke-linecap="butt"/>
<line x1="288.25" y1="937.40" x2="304.75" y2="937.40" stroke="#b00000" stroke-width="1.7" stroke-linecap="butt"/>
<line x1="318.60" y1="875.90" x2="318.60" y2="928.30" stroke="#b00000" stroke-width="1.7" stroke-linecap="butt"/>
<line x1="310.35" y1="875.90" x2="326.85" y2="875.90" stroke="#b00000" stroke-width="1.7" stroke-linecap="butt"/>
<line x1="310.35" y1="928.30" x2="326.85" y2="928.30" stroke="#b00000" stroke-width="1.7" stroke-linecap="butt"/>
<line x1="340.70" y1="876.80" x2="340.70" y2="931.60" stroke="#b00000" stroke-width="1.7" stroke-linecap="butt"/>
<line x1="332.45" y1="876.80" x2="348.95" y2="876.80" stroke="#b00000" stroke-width="1.7" stroke-linecap="butt"/>
<line x1="332.45" y1="931.60" x2="348.95" y2="931.60" stroke="#b00000" stroke-width="1.7" stroke-linecap="butt"/>
<line x1="362.60" y1="877.20" x2="362.60" y2="928.00" stroke="#b00000" stroke-width="1.7" stroke-linecap="butt"/>
<line x1="354.35" y1="877.20" x2="370.85" y2="877.20" stroke="#b00000" stroke-width="1.7" stroke-linecap="butt"/>
<line x1="354.35" y1="928.00" x2="370.85" y2="928.00" stroke="#b00000" stroke-width="1.7" stroke-linecap="butt"/>
<line x1="387.70" y1="874.50" x2="387.70" y2="934.90" stroke="#b00000" stroke-width="1.7" stroke-linecap="butt"/>
<line x1="379.45" y1="874.50" x2="395.95" y2="874.50" stroke="#b00000" stroke-width="1.7" stroke-linecap="butt"/>
<line x1="379.45" y1="934.90" x2="395.95" y2="934.90" stroke="#b00000" stroke-width="1.7" stroke-linecap="butt"/>
<line x1="380.00" y1="904.70" x2="395.40" y2="904.70" stroke="#b00000" stroke-width="1.7" stroke-linecap="butt"/>
<line x1="380.00" y1="896.45" x2="380.00" y2="912.95" stroke="#b00000" stroke-width="1.7" stroke-linecap="butt"/>
<line x1="395.40" y1="896.45" x2="395.40" y2="912.95" stroke="#b00000" stroke-width="1.7" stroke-linecap="butt"/>
<circle cx="162.20" cy="928.70" r="7.4" fill="#ff0000" stroke="#b00000" stroke-width="1.7"/>
<circle cx="184.40" cy="933.90" r="7.4" fill="#ff0000" stroke="#b00000" stroke-width="1.7"/>
<circle cx="207.30" cy="932.20" r="7.4" fill="#ff0000" stroke="#b00000" stroke-width="1.7"/>
<circle cx="229.30" cy="926.40" r="7.4" fill="#ff0000" stroke="#b00000" stroke-width="1.7"/>
<circle cx="252.20" cy="925.00" r="7.4" fill="#ff0000" stroke="#b00000" stroke-width="1.7"/>
<circle cx="274.20" cy="917.70" r="7.4" fill="#ff0000" stroke="#b00000" stroke-width="1.7"/>
<circle cx="296.50" cy="910.40" r="7.4" fill="#ff0000" stroke="#b00000" stroke-width="1.7"/>
<circle cx="318.60" cy="902.10" r="7.4" fill="#ff0000" stroke="#b00000" stroke-width="1.7"/>
<circle cx="340.70" cy="904.20" r="7.4" fill="#ff0000" stroke="#b00000" stroke-width="1.7"/>
<circle cx="362.60" cy="902.60" r="7.4" fill="#ff0000" stroke="#b00000" stroke-width="1.7"/>
<circle cx="387.70" cy="904.70" r="7.4" fill="#ff0000" stroke="#b00000" stroke-width="1.7"/>
<line x1="162.20" y1="1027.30" x2="162.20" y2="1078.10" stroke="#808000" stroke-width="1.7" stroke-linecap="butt"/>
<line x1="153.95" y1="1027.30" x2="170.45" y2="1027.30" stroke="#808000" stroke-width="1.7" stroke-linecap="butt"/>
<line x1="153.95" y1="1078.10" x2="170.45" y2="1078.10" stroke="#808000" stroke-width="1.7" stroke-linecap="butt"/>
<line x1="184.40" y1="996.80" x2="184.40" y2="1058.80" stroke="#808000" stroke-width="1.7" stroke-linecap="butt"/>
<line x1="176.15" y1="996.80" x2="192.65" y2="996.80" stroke="#808000" stroke-width="1.7" stroke-linecap="butt"/>
<line x1="176.15" y1="1058.80" x2="192.65" y2="1058.80" stroke="#808000" stroke-width="1.7" stroke-linecap="butt"/>
<line x1="206.90" y1="930.60" x2="206.90" y2="1039.80" stroke="#808000" stroke-width="1.7" stroke-linecap="butt"/>
<line x1="198.65" y1="930.60" x2="215.15" y2="930.60" stroke="#808000" stroke-width="1.7" stroke-linecap="butt"/>
<line x1="198.65" y1="1039.80" x2="215.15" y2="1039.80" stroke="#808000" stroke-width="1.7" stroke-linecap="butt"/>
<line x1="229.10" y1="882.40" x2="229.10" y2="950.00" stroke="#808000" stroke-width="1.7" stroke-linecap="butt"/>
<line x1="220.85" y1="882.40" x2="237.35" y2="882.40" stroke="#808000" stroke-width="1.7" stroke-linecap="butt"/>
<line x1="220.85" y1="950.00" x2="237.35" y2="950.00" stroke="#808000" stroke-width="1.7" stroke-linecap="butt"/>
<line x1="251.10" y1="835.10" x2="251.10" y2="917.10" stroke="#808000" stroke-width="1.7" stroke-linecap="butt"/>
<line x1="242.85" y1="835.10" x2="259.35" y2="835.10" stroke="#808000" stroke-width="1.7" stroke-linecap="butt"/>
<line x1="242.85" y1="917.10" x2="259.35" y2="917.10" stroke="#808000" stroke-width="1.7" stroke-linecap="butt"/>
<line x1="274.20" y1="868.20" x2="274.20" y2="912.20" stroke="#808000" stroke-width="1.7" stroke-linecap="butt"/>
<line x1="265.95" y1="868.20" x2="282.45" y2="868.20" stroke="#808000" stroke-width="1.7" stroke-linecap="butt"/>
<line x1="265.95" y1="912.20" x2="282.45" y2="912.20" stroke="#808000" stroke-width="1.7" stroke-linecap="butt"/>
<line x1="299.40" y1="846.20" x2="299.40" y2="905.00" stroke="#808000" stroke-width="1.7" stroke-linecap="butt"/>
<line x1="291.15" y1="846.20" x2="307.65" y2="846.20" stroke="#808000" stroke-width="1.7" stroke-linecap="butt"/>
<line x1="291.15" y1="905.00" x2="307.65" y2="905.00" stroke="#808000" stroke-width="1.7" stroke-linecap="butt"/>
<line x1="325.70" y1="822.50" x2="325.70" y2="893.50" stroke="#808000" stroke-width="1.7" stroke-linecap="butt"/>
<line x1="317.45" y1="822.50" x2="333.95" y2="822.50" stroke="#808000" stroke-width="1.7" stroke-linecap="butt"/>
<line x1="317.45" y1="893.50" x2="333.95" y2="893.50" stroke="#808000" stroke-width="1.7" stroke-linecap="butt"/>
<line x1="317.70" y1="858.00" x2="333.70" y2="858.00" stroke="#808000" stroke-width="1.7" stroke-linecap="butt"/>
<line x1="317.70" y1="849.75" x2="317.70" y2="866.25" stroke="#808000" stroke-width="1.7" stroke-linecap="butt"/>
<line x1="333.70" y1="849.75" x2="333.70" y2="866.25" stroke="#808000" stroke-width="1.7" stroke-linecap="butt"/>
<circle cx="162.20" cy="1052.70" r="7.4" fill="#ffff00" stroke="#808000" stroke-width="1.7"/>
<circle cx="184.40" cy="1027.80" r="7.4" fill="#ffff00" stroke="#808000" stroke-width="1.7"/>
<circle cx="206.90" cy="985.20" r="7.4" fill="#ffff00" stroke="#808000" stroke-width="1.7"/>
<circle cx="229.10" cy="916.20" r="7.4" fill="#ffff00" stroke="#808000" stroke-width="1.7"/>
<circle cx="251.10" cy="876.10" r="7.4" fill="#ffff00" stroke="#808000" stroke-width="1.7"/>
<circle cx="274.20" cy="890.20" r="7.4" fill="#ffff00" stroke="#808000" stroke-width="1.7"/>
<circle cx="299.40" cy="875.60" r="7.4" fill="#ffff00" stroke="#808000" stroke-width="1.7"/>
<circle cx="325.70" cy="858.00" r="7.4" fill="#ffff00" stroke="#808000" stroke-width="1.7"/>
<line x1="159.10" y1="941.80" x2="159.10" y2="987.80" stroke="#005000" stroke-width="1.7" stroke-linecap="butt"/>
<line x1="150.85" y1="941.80" x2="167.35" y2="941.80" stroke="#005000" stroke-width="1.7" stroke-linecap="butt"/>
<line x1="150.85" y1="987.80" x2="167.35" y2="987.80" stroke="#005000" stroke-width="1.7" stroke-linecap="butt"/>
<line x1="179.90" y1="917.60" x2="179.90" y2="967.60" stroke="#005000" stroke-width="1.7" stroke-linecap="butt"/>
<line x1="171.65" y1="917.60" x2="188.15" y2="917.60" stroke="#005000" stroke-width="1.7" stroke-linecap="butt"/>
<line x1="171.65" y1="967.60" x2="188.15" y2="967.60" stroke="#005000" stroke-width="1.7" stroke-linecap="butt"/>
<line x1="200.70" y1="908.30" x2="200.70" y2="945.70" stroke="#005000" stroke-width="1.7" stroke-linecap="butt"/>
<line x1="192.45" y1="908.30" x2="208.95" y2="908.30" stroke="#005000" stroke-width="1.7" stroke-linecap="butt"/>
<line x1="192.45" y1="945.70" x2="208.95" y2="945.70" stroke="#005000" stroke-width="1.7" stroke-linecap="butt"/>
<line x1="221.80" y1="889.30" x2="221.80" y2="905.30" stroke="#005000" stroke-width="1.7" stroke-linecap="butt"/>
<line x1="213.55" y1="889.30" x2="230.05" y2="889.30" stroke="#005000" stroke-width="1.7" stroke-linecap="butt"/>
<line x1="213.55" y1="905.30" x2="230.05" y2="905.30" stroke="#005000" stroke-width="1.7" stroke-linecap="butt"/>
<line x1="243.20" y1="870.00" x2="243.20" y2="896.00" stroke="#005000" stroke-width="1.7" stroke-linecap="butt"/>
<line x1="234.95" y1="870.00" x2="251.45" y2="870.00" stroke="#005000" stroke-width="1.7" stroke-linecap="butt"/>
<line x1="234.95" y1="896.00" x2="251.45" y2="896.00" stroke="#005000" stroke-width="1.7" stroke-linecap="butt"/>
<line x1="264.00" y1="857.00" x2="264.00" y2="890.00" stroke="#005000" stroke-width="1.7" stroke-linecap="butt"/>
<line x1="255.75" y1="857.00" x2="272.25" y2="857.00" stroke="#005000" stroke-width="1.7" stroke-linecap="butt"/>
<line x1="255.75" y1="890.00" x2="272.25" y2="890.00" stroke="#005000" stroke-width="1.7" stroke-linecap="butt"/>
<line x1="288.00" y1="861.70" x2="288.00" y2="895.70" stroke="#005000" stroke-width="1.7" stroke-linecap="butt"/>
<line x1="279.75" y1="861.70" x2="296.25" y2="861.70" stroke="#005000" stroke-width="1.7" stroke-linecap="butt"/>
<line x1="279.75" y1="895.70" x2="296.25" y2="895.70" stroke="#005000" stroke-width="1.7" stroke-linecap="butt"/>
<line x1="308.70" y1="857.20" x2="308.70" y2="873.20" stroke="#005000" stroke-width="1.7" stroke-linecap="butt"/>
<line x1="300.45" y1="857.20" x2="316.95" y2="857.20" stroke="#005000" stroke-width="1.7" stroke-linecap="butt"/>
<line x1="300.45" y1="873.20" x2="316.95" y2="873.20" stroke="#005000" stroke-width="1.7" stroke-linecap="butt"/>
<line x1="301.70" y1="865.20" x2="315.70" y2="865.20" stroke="#005000" stroke-width="1.7" stroke-linecap="butt"/>
<line x1="301.70" y1="856.95" x2="301.70" y2="873.45" stroke="#005000" stroke-width="1.7" stroke-linecap="butt"/>
<line x1="315.70" y1="856.95" x2="315.70" y2="873.45" stroke="#005000" stroke-width="1.7" stroke-linecap="butt"/>
<line x1="324.00" y1="851.90" x2="324.00" y2="885.90" stroke="#005000" stroke-width="1.7" stroke-linecap="butt"/>
<line x1="315.75" y1="851.90" x2="332.25" y2="851.90" stroke="#005000" stroke-width="1.7" stroke-linecap="butt"/>
<line x1="315.75" y1="885.90" x2="332.25" y2="885.90" stroke="#005000" stroke-width="1.7" stroke-linecap="butt"/>
<circle cx="159.10" cy="964.80" r="7.4" fill="#00ff00" stroke="#005000" stroke-width="1.7"/>
<circle cx="179.90" cy="942.60" r="7.4" fill="#00ff00" stroke="#005000" stroke-width="1.7"/>
<circle cx="200.70" cy="927.00" r="7.4" fill="#00ff00" stroke="#005000" stroke-width="1.7"/>
<circle cx="221.80" cy="897.30" r="7.4" fill="#00ff00" stroke="#005000" stroke-width="1.7"/>
<circle cx="243.20" cy="883.00" r="7.4" fill="#00ff00" stroke="#005000" stroke-width="1.7"/>
<circle cx="264.00" cy="873.50" r="7.4" fill="#00ff00" stroke="#005000" stroke-width="1.7"/>
<circle cx="288.00" cy="878.70" r="7.4" fill="#00ff00" stroke="#005000" stroke-width="1.7"/>
<circle cx="308.70" cy="865.20" r="7.4" fill="#00ff00" stroke="#005000" stroke-width="1.7"/>
<circle cx="324.00" cy="868.90" r="7.4" fill="#00ff00" stroke="#005000" stroke-width="1.7"/>
<rect x="96.2" y="750.2" width="315.2" height="393.5999999999999" fill="none" stroke="#000" stroke-width="3.4" stroke-linejoin="round"/>
<line x1="96.20" y1="1143.80" x2="102.05" y2="1143.80" stroke="#000000" stroke-width="3.5" stroke-linecap="round"/>
<line x1="96.20" y1="1065.00" x2="102.05" y2="1065.00" stroke="#000000" stroke-width="3.5" stroke-linecap="round"/>
<line x1="96.20" y1="986.20" x2="102.05" y2="986.20" stroke="#000000" stroke-width="3.5" stroke-linecap="round"/>
<line x1="96.20" y1="907.40" x2="102.05" y2="907.40" stroke="#000000" stroke-width="3.5" stroke-linecap="round"/>
<line x1="96.20" y1="828.60" x2="102.05" y2="828.60" stroke="#000000" stroke-width="3.5" stroke-linecap="round"/>
<line x1="96.20" y1="749.80" x2="102.05" y2="749.80" stroke="#000000" stroke-width="3.5" stroke-linecap="round"/>
<line x1="96.20" y1="1104.40" x2="99.45" y2="1104.40" stroke="#000000" stroke-width="3.5" stroke-linecap="round"/>
<line x1="96.20" y1="1025.60" x2="99.45" y2="1025.60" stroke="#000000" stroke-width="3.5" stroke-linecap="round"/>
<line x1="96.20" y1="946.80" x2="99.45" y2="946.80" stroke="#000000" stroke-width="3.5" stroke-linecap="round"/>
<line x1="96.20" y1="868.00" x2="99.45" y2="868.00" stroke="#000000" stroke-width="3.5" stroke-linecap="round"/>
<line x1="96.20" y1="789.20" x2="99.45" y2="789.20" stroke="#000000" stroke-width="3.5" stroke-linecap="round"/>
<line x1="253.80" y1="1143.80" x2="253.80" y2="1137.85" stroke="#000000" stroke-width="3.5" stroke-linecap="round"/>
<line x1="175.00" y1="1143.80" x2="175.00" y2="1140.35" stroke="#000000" stroke-width="3.5" stroke-linecap="round"/>
<line x1="332.60" y1="1143.80" x2="332.60" y2="1140.35" stroke="#000000" stroke-width="3.5" stroke-linecap="round"/>
<text transform="translate(91.29,1153.19)" font-size="27.3" font-weight="bold" text-anchor="end" fill="#000000">0.6</text>
<text transform="translate(91.50,1074.39)" font-size="27.3" font-weight="bold" text-anchor="end" fill="#000000">0.7</text>
<text transform="translate(91.14,995.59)" font-size="27.3" font-weight="bold" text-anchor="end" fill="#000000">0.8</text>
<text transform="translate(91.31,916.79)" font-size="27.3" font-weight="bold" text-anchor="end" fill="#000000">0.9</text>
<text transform="translate(91.42,837.99)" font-size="27.3" font-weight="bold" text-anchor="end" fill="#000000">1.0</text>
<text transform="translate(91.06,759.19)" font-size="27.3" font-weight="bold" text-anchor="end" fill="#000000">1.1</text>
<text transform="translate(96.20,1173.10)" font-size="27.8" font-weight="bold" text-anchor="middle" fill="#000000">0.0</text>
<text transform="translate(253.80,1173.10)" font-size="27.8" font-weight="bold" text-anchor="middle" fill="#000000">0.1</text>
<text transform="translate(411.40,1173.10)" font-size="27.8" font-weight="bold" text-anchor="middle" fill="#000000">0.2</text>
<text transform="translate(181.08,1208.50)" font-size="28.75" font-weight="bold" text-anchor="start" fill="#000000">Power (W)</text>
<circle cx="92.6" cy="1242.6" r="7.6" fill="#000000" stroke="#000000" stroke-width="1.7"/>
<circle cx="266.7" cy="1242.6" r="7.6" fill="#ff0000" stroke="#b00000" stroke-width="1.7"/>
<circle cx="91.8" cy="1289.1" r="7.6" fill="#ffff00" stroke="#808000" stroke-width="1.7"/>
<circle cx="91.2" cy="1333" r="7.6" fill="#00ff00" stroke="#005000" stroke-width="1.7"/>
<text transform="translate(136.60,1252.00)" font-size="28.3" font-weight="bold" text-anchor="start" fill="#000000">saline</text>
<text transform="translate(311.70,1252.00)" font-size="28.4" font-weight="bold" text-anchor="start" fill="#990000">caffeine</text>
<text transform="translate(135.80,1296.70)" font-size="28.4" font-weight="bold" text-anchor="start" fill="#808000">A<tspan font-size="21.0" dy="6.8">2A</tspan><tspan dy="-6.8">R KO saline</tspan></text>
<text transform="translate(135.80,1339.70)" font-size="28.4" font-weight="bold" text-anchor="start" fill="#005a00">A<tspan font-size="21.0" dy="6.8">2A</tspan><tspan dy="-6.8">R KO caffeine</tspan></text>
</svg></body></html>
